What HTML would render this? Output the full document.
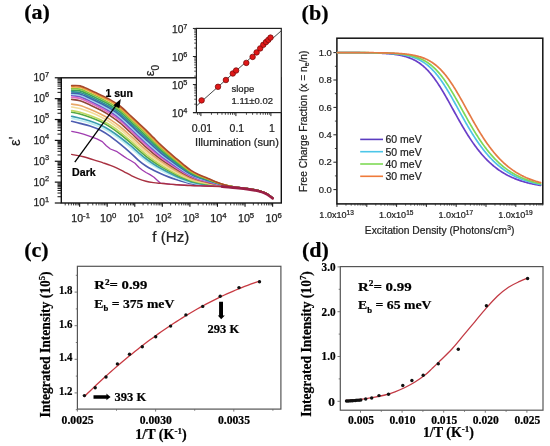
<!DOCTYPE html>
<html><head><meta charset="utf-8"><style>
html,body{margin:0;padding:0;background:#fff;}
body{width:550px;height:446px;overflow:hidden;}
svg{display:block;filter:blur(0.35px);}
</style></head><body>
<svg width="550" height="446" viewBox="0 0 550 446">
<rect x="0" y="0" width="550" height="446" fill="#fff"/>
<path d="M71.7,121.3 C73.08,121.65 76.95,122.62 80,123.4 C83.05,124.18 86.5,124.82 90,126 C93.5,127.18 97.67,128.77 101,130.47 C104.33,132.16 106.83,133.92 110,136.17 C113.17,138.41 116.5,141.09 120,143.94 C123.5,146.8 127.92,150.56 131,153.3 C134.08,156.04 136,158.26 138.5,160.38 C141,162.51 143.5,164.39 146,166.03 C148.5,167.68 151,168.94 153.5,170.25 C156,171.56 158.5,172.76 161,173.87 C163.5,174.97 166,175.94 168.5,176.88 C171,177.82 173.5,178.71 176,179.5 C178.5,180.29 181,180.93 183.5,181.62 C186,182.3 188.5,183.05 191,183.6 C193.5,184.15 196,184.57 198.5,184.9 C201,185.23 203.25,185.42 206,185.6 C208.75,185.78 211.83,185.87 215,186 C218.17,186.13 221.5,186.17 225,186.4 C228.5,186.63 232.33,187.02 236,187.4 C239.67,187.78 243.33,188.17 247,188.7 C250.67,189.23 254.75,189.8 258,190.6 C261.25,191.4 264.07,192.27 266.5,193.5 C268.93,194.73 271.58,197.25 272.6,198" stroke="#4c5cb0" stroke-width="1.65" fill="none" stroke-linejoin="round" stroke-linecap="round" />
<path d="M71.7,118.3 C73.08,118.63 76.95,119.49 80,120.29 C83.05,121.09 86.5,121.93 90,123.1 C93.5,124.26 97.67,125.75 101,127.28 C104.33,128.82 106.83,130.3 110,132.31 C113.17,134.32 116.5,136.72 120,139.35 C123.5,141.97 127.92,145.5 131,148.05 C134.08,150.6 136,152.53 138.5,154.65 C141,156.77 143.5,158.91 146,160.77 C148.5,162.63 151,164.22 153.5,165.79 C156,167.36 158.5,168.84 161,170.21 C163.5,171.58 166,172.81 168.5,174.02 C171,175.22 173.5,176.37 176,177.43 C178.5,178.49 181,179.49 183.5,180.37 C186,181.25 188.5,182.08 191,182.72 C193.5,183.36 196,183.82 198.5,184.21 C201,184.6 203.25,184.81 206,185.06 C208.75,185.31 211.83,185.49 215,185.7 C218.17,185.91 221.5,186.02 225,186.31 C228.5,186.59 232.33,187 236,187.39 C239.67,187.79 243.33,188.16 247,188.69 C250.67,189.23 254.75,189.8 258,190.6 C261.25,191.4 264.07,192.27 266.5,193.5 C268.93,194.73 271.58,197.25 272.6,198" stroke="#bdeef2" stroke-width="1.65" fill="none" stroke-linejoin="round" stroke-linecap="round" />
<path d="M71.7,116.3 C73.08,116.61 76.95,117.39 80,118.18 C83.05,118.97 86.5,119.86 90,121.04 C93.5,122.23 97.67,123.74 101,125.27 C104.33,126.8 106.83,128.25 110,130.24 C113.17,132.23 116.5,134.59 120,137.22 C123.5,139.84 127.92,143.43 131,145.99 C134.08,148.55 136,150.47 138.5,152.6 C141,154.73 143.5,156.88 146,158.77 C148.5,160.66 151,162.31 153.5,163.95 C156,165.58 158.5,167.13 161,168.57 C163.5,170.01 166,171.3 168.5,172.57 C171,173.83 173.5,175.05 176,176.18 C178.5,177.3 181,178.38 183.5,179.34 C186,180.29 188.5,181.2 191,181.91 C193.5,182.62 196,183.13 198.5,183.57 C201,184.01 203.25,184.25 206,184.56 C208.75,184.87 211.83,185.15 215,185.42 C218.17,185.7 221.5,185.89 225,186.22 C228.5,186.55 232.33,186.98 236,187.39 C239.67,187.8 243.33,188.15 247,188.69 C250.67,189.22 254.75,189.8 258,190.6 C261.25,191.4 264.07,192.27 266.5,193.5 C268.93,194.73 271.58,197.25 272.6,198" stroke="#3a9cb0" stroke-width="1.65" fill="none" stroke-linejoin="round" stroke-linecap="round" />
<path d="M71.7,112.2 C73.08,112.5 76.95,113.14 80,113.98 C83.05,114.81 86.5,115.91 90,117.21 C93.5,118.51 97.67,120.17 101,121.78 C104.33,123.39 106.83,124.83 110,126.87 C113.17,128.9 116.5,131.28 120,133.99 C123.5,136.7 127.92,140.46 131,143.12 C134.08,145.77 136,147.71 138.5,149.91 C141,152.1 143.5,154.32 146,156.29 C148.5,158.27 151,160.03 153.5,161.75 C156,163.47 158.5,165.1 161,166.61 C163.5,168.13 166,169.49 168.5,170.84 C171,172.18 173.5,173.47 176,174.68 C178.5,175.89 181,177.06 183.5,178.1 C186,179.15 188.5,180.16 191,180.95 C193.5,181.73 196,182.31 198.5,182.81 C201,183.31 203.25,183.59 206,183.97 C208.75,184.35 211.83,184.74 215,185.1 C218.17,185.45 221.5,185.74 225,186.12 C228.5,186.5 232.33,186.95 236,187.38 C239.67,187.81 243.33,188.14 247,188.68 C250.67,189.22 254.75,189.8 258,190.6 C261.25,191.4 264.07,192.27 266.5,193.5 C268.93,194.73 271.58,197.25 272.6,198" stroke="#52a844" stroke-width="1.65" fill="none" stroke-linejoin="round" stroke-linecap="round" />
<path d="M71.7,110.6 C73.08,110.88 76.95,111.44 80,112.26 C83.05,113.08 86.5,114.2 90,115.5 C93.5,116.79 97.67,118.46 101,120.05 C104.33,121.64 106.83,123.04 110,125.05 C113.17,127.05 116.5,129.38 120,132.07 C123.5,134.76 127.92,138.56 131,141.21 C134.08,143.86 136,145.79 138.5,147.98 C141,150.18 143.5,152.38 146,154.38 C148.5,156.38 151,158.2 153.5,159.98 C156,161.75 158.5,163.46 161,165.03 C163.5,166.61 166,168.03 168.5,169.44 C171,170.85 173.5,172.19 176,173.47 C178.5,174.75 181,175.99 183.5,177.11 C186,178.22 188.5,179.32 191,180.17 C193.5,181.02 196,181.64 198.5,182.2 C201,182.75 203.25,183.06 206,183.49 C208.75,183.93 211.83,184.41 215,184.83 C218.17,185.25 221.5,185.61 225,186.04 C228.5,186.46 232.33,186.93 236,187.37 C239.67,187.81 243.33,188.14 247,188.67 C250.67,189.21 254.75,189.8 258,190.6 C261.25,191.4 264.07,192.27 266.5,193.5 C268.93,194.73 271.58,197.25 272.6,198" stroke="#c2d862" stroke-width="1.65" fill="none" stroke-linejoin="round" stroke-linecap="round" />
<path d="M71.7,107 C73.08,107.26 76.95,107.71 80,108.56 C83.05,109.4 86.5,110.69 90,112.09 C93.5,113.48 97.67,115.26 101,116.91 C104.33,118.56 106.83,119.95 110,121.98 C113.17,124.02 116.5,126.34 120,129.1 C123.5,131.86 127.92,135.81 131,138.53 C134.08,141.25 136,143.2 138.5,145.44 C141,147.69 143.5,149.95 146,152.02 C148.5,154.09 151,156.01 153.5,157.86 C156,159.72 158.5,161.5 161,163.15 C163.5,164.81 166,166.3 168.5,167.78 C171,169.26 173.5,170.68 176,172.03 C178.5,173.39 181,174.72 183.5,175.92 C186,177.12 188.5,178.32 191,179.24 C193.5,180.17 196,180.85 198.5,181.47 C201,182.08 203.25,182.42 206,182.93 C208.75,183.43 211.83,184.01 215,184.51 C218.17,185.02 221.5,185.46 225,185.94 C228.5,186.41 232.33,186.91 236,187.37 C239.67,187.82 243.33,188.13 247,188.67 C250.67,189.21 254.75,189.79 258,190.6 C261.25,191.41 264.07,192.27 266.5,193.5 C268.93,194.73 271.58,197.25 272.6,198" stroke="#f3dc98" stroke-width="1.65" fill="none" stroke-linejoin="round" stroke-linecap="round" />
<path d="M71.7,104.1 C73.08,104.34 76.95,104.68 80,105.55 C83.05,106.41 86.5,107.82 90,109.27 C93.5,110.72 97.67,112.58 101,114.26 C104.33,115.95 106.83,117.32 110,119.36 C113.17,121.4 116.5,123.71 120,126.5 C123.5,129.29 127.92,133.35 131,136.12 C134.08,138.89 136,140.84 138.5,143.12 C141,145.4 143.5,147.68 146,149.81 C148.5,151.93 151,153.94 153.5,155.87 C156,157.8 158.5,159.65 161,161.38 C163.5,163.1 166,164.66 168.5,166.21 C171,167.76 173.5,169.24 176,170.67 C178.5,172.11 181,173.52 183.5,174.8 C186,176.08 188.5,177.37 191,178.37 C193.5,179.36 196,180.11 198.5,180.78 C201,181.45 203.25,181.82 206,182.39 C208.75,182.96 211.83,183.64 215,184.22 C218.17,184.79 221.5,185.32 225,185.85 C228.5,186.37 232.33,186.89 236,187.36 C239.67,187.83 243.33,188.12 247,188.66 C250.67,189.2 254.75,189.79 258,190.6 C261.25,191.41 264.07,192.27 266.5,193.5 C268.93,194.73 271.58,197.25 272.6,198" stroke="#e8a868" stroke-width="1.65" fill="none" stroke-linejoin="round" stroke-linecap="round" />
<path d="M71.7,99.4 C73.08,99.62 76.95,99.83 80,100.75 C83.05,101.67 86.5,103.33 90,104.93 C93.5,106.53 97.67,108.57 101,110.35 C104.33,112.13 106.83,113.51 110,115.61 C113.17,117.71 116.5,120.06 120,122.96 C123.5,125.86 127.92,130.13 131,133.01 C134.08,135.89 136,137.88 138.5,140.24 C141,142.61 143.5,144.98 146,147.2 C148.5,149.42 151,151.55 153.5,153.57 C156,155.59 158.5,157.53 161,159.33 C163.5,161.14 166,162.77 168.5,164.4 C171,166.03 173.5,167.59 176,169.11 C178.5,170.63 181,172.14 183.5,173.51 C186,174.89 188.5,176.28 191,177.36 C193.5,178.44 196,179.25 198.5,179.98 C201,180.72 203.25,181.12 206,181.77 C208.75,182.42 211.83,183.21 215,183.87 C218.17,184.53 221.5,185.16 225,185.74 C228.5,186.32 232.33,186.87 236,187.35 C239.67,187.84 243.33,188.11 247,188.65 C250.67,189.19 254.75,189.79 258,190.6 C261.25,191.41 264.07,192.27 266.5,193.5 C268.93,194.73 271.58,197.25 272.6,198" stroke="#8f4638" stroke-width="1.65" fill="none" stroke-linejoin="round" stroke-linecap="round" />
<path d="M71.7,97.2 C73.08,97.41 76.95,97.52 80,98.44 C83.05,99.35 86.5,101.08 90,102.71 C93.5,104.33 97.67,106.41 101,108.2 C104.33,109.98 106.83,111.33 110,113.42 C113.17,115.5 116.5,117.81 120,120.72 C123.5,123.63 127.92,127.97 131,130.87 C134.08,133.78 136,135.76 138.5,138.14 C141,140.51 143.5,142.89 146,145.15 C148.5,147.41 151,149.61 153.5,151.7 C156,153.78 158.5,155.79 161,157.66 C163.5,159.53 166,161.23 168.5,162.92 C171,164.62 173.5,166.24 176,167.83 C178.5,169.42 181,171.01 183.5,172.46 C186,173.91 188.5,175.39 191,176.54 C193.5,177.68 196,178.55 198.5,179.34 C201,180.12 203.25,180.56 206,181.27 C208.75,181.98 211.83,182.86 215,183.59 C218.17,184.32 221.5,185.03 225,185.65 C228.5,186.28 232.33,186.85 236,187.35 C239.67,187.85 243.33,188.1 247,188.65 C250.67,189.19 254.75,189.79 258,190.6 C261.25,191.41 264.07,192.27 266.5,193.5 C268.93,194.73 271.58,197.25 272.6,198" stroke="#e06ac0" stroke-width="1.65" fill="none" stroke-linejoin="round" stroke-linecap="round" />
<path d="M71.7,95.5 C73.08,95.69 76.95,95.72 80,96.62 C83.05,97.52 86.5,99.28 90,100.91 C93.5,102.54 97.67,104.63 101,106.4 C104.33,108.17 106.83,109.47 110,111.53 C113.17,113.59 116.5,115.85 120,118.75 C123.5,121.65 127.92,126.03 131,128.93 C134.08,131.84 136,133.8 138.5,136.18 C141,138.56 143.5,140.93 146,143.21 C148.5,145.5 151,147.76 153.5,149.9 C156,152.05 158.5,154.13 161,156.07 C163.5,158 166,159.75 168.5,161.51 C171,163.27 173.5,164.95 176,166.61 C178.5,168.27 181,169.93 183.5,171.45 C186,172.98 188.5,174.54 191,175.75 C193.5,176.96 196,177.88 198.5,178.72 C201,179.56 203.25,180.02 206,180.78 C208.75,181.55 211.83,182.53 215,183.32 C218.17,184.12 221.5,184.9 225,185.57 C228.5,186.24 232.33,186.83 236,187.34 C239.67,187.85 243.33,188.1 247,188.64 C250.67,189.18 254.75,189.79 258,190.6 C261.25,191.41 264.07,192.27 266.5,193.5 C268.93,194.73 271.58,197.25 272.6,198" stroke="#7b55c8" stroke-width="1.65" fill="none" stroke-linejoin="round" stroke-linecap="round" />
<path d="M71.7,94.2 C73.08,94.37 76.95,94.33 80,95.2 C83.05,96.08 86.5,97.83 90,99.44 C93.5,101.06 97.67,103.13 101,104.88 C104.33,106.62 106.83,107.88 110,109.9 C113.17,111.92 116.5,114.12 120,116.99 C123.5,119.86 127.92,124.25 131,127.14 C134.08,130.04 136,131.97 138.5,134.35 C141,136.72 143.5,139.06 146,141.37 C148.5,143.67 151,145.99 153.5,148.18 C156,150.37 158.5,152.54 161,154.53 C163.5,156.53 166,158.33 168.5,160.15 C171,161.97 173.5,163.72 176,165.44 C178.5,167.16 181,168.89 183.5,170.48 C186,172.08 188.5,173.72 191,175 C193.5,176.27 196,177.23 198.5,178.12 C201,179.01 203.25,179.5 206,180.32 C208.75,181.14 211.83,182.21 215,183.07 C218.17,183.93 221.5,184.78 225,185.49 C228.5,186.2 232.33,186.81 236,187.33 C239.67,187.86 243.33,188.09 247,188.63 C250.67,189.18 254.75,189.79 258,190.6 C261.25,191.41 264.07,192.27 266.5,193.5 C268.93,194.73 271.58,197.25 272.6,198" stroke="#9ad8ee" stroke-width="1.65" fill="none" stroke-linejoin="round" stroke-linecap="round" />
<path d="M71.7,93.1 C73.08,93.25 76.95,93.14 80,93.98 C83.05,94.83 86.5,96.57 90,98.15 C93.5,99.74 97.67,101.79 101,103.5 C104.33,105.21 106.83,106.42 110,108.39 C113.17,110.36 116.5,112.49 120,115.33 C123.5,118.17 127.92,122.56 131,125.43 C134.08,128.3 136,130.22 138.5,132.57 C141,134.93 143.5,137.24 146,139.56 C148.5,141.88 151,144.25 153.5,146.49 C156,148.73 158.5,150.97 161,153.03 C163.5,155.08 166,156.94 168.5,158.82 C171,160.7 173.5,162.5 176,164.29 C178.5,166.07 181,167.87 183.5,169.54 C186,171.2 188.5,172.92 191,174.25 C193.5,175.59 196,176.6 198.5,177.54 C201,178.47 203.25,178.99 206,179.87 C208.75,180.74 211.83,181.89 215,182.81 C218.17,183.74 221.5,184.66 225,185.41 C228.5,186.16 232.33,186.79 236,187.33 C239.67,187.87 243.33,188.08 247,188.63 C250.67,189.17 254.75,189.79 258,190.6 C261.25,191.41 264.07,192.27 266.5,193.5 C268.93,194.73 271.58,197.25 272.6,198" stroke="#3f5fb0" stroke-width="1.65" fill="none" stroke-linejoin="round" stroke-linecap="round" />
<path d="M71.7,91.8 C73.08,91.93 76.95,91.75 80,92.57 C83.05,93.38 86.5,95.12 90,96.69 C93.5,98.26 97.67,100.3 101,101.98 C104.33,103.66 106.83,104.82 110,106.76 C113.17,108.69 116.5,110.76 120,113.57 C123.5,116.39 127.92,120.78 131,123.64 C134.08,126.5 136,128.39 138.5,130.74 C141,133.09 143.5,135.38 146,137.72 C148.5,140.05 151,142.47 153.5,144.77 C156,147.06 158.5,149.37 161,151.49 C163.5,153.61 166,155.53 168.5,157.46 C171,159.4 173.5,161.26 176,163.11 C178.5,164.96 181,166.84 183.5,168.57 C186,170.3 188.5,172.1 191,173.5 C193.5,174.89 196,175.96 198.5,176.94 C201,177.93 203.25,178.47 206,179.4 C208.75,180.34 211.83,181.57 215,182.56 C218.17,183.54 221.5,184.53 225,185.33 C228.5,186.12 232.33,186.77 236,187.32 C239.67,187.87 243.33,188.08 247,188.62 C250.67,189.17 254.75,189.79 258,190.6 C261.25,191.41 264.07,192.27 266.5,193.5 C268.93,194.73 271.58,197.25 272.6,198" stroke="#2e8f9a" stroke-width="1.65" fill="none" stroke-linejoin="round" stroke-linecap="round" />
<path d="M71.7,90.2 C73.08,90.31 76.95,90.05 80,90.85 C83.05,91.65 86.5,93.41 90,94.98 C93.5,96.54 97.67,98.59 101,100.25 C104.33,101.91 106.83,103.04 110,104.94 C113.17,106.84 116.5,108.85 120,111.65 C123.5,114.45 127.92,118.88 131,121.74 C134.08,124.6 136,126.47 138.5,128.81 C141,131.16 143.5,133.44 146,135.8 C148.5,138.16 151,140.64 153.5,142.99 C156,145.34 158.5,147.73 161,149.91 C163.5,152.09 166,154.07 168.5,156.07 C171,158.06 173.5,159.99 176,161.9 C178.5,163.82 181,165.77 183.5,167.57 C186,169.37 188.5,171.26 191,172.72 C193.5,174.18 196,175.29 198.5,176.33 C201,177.36 203.25,177.93 206,178.92 C208.75,179.92 211.83,181.24 215,182.29 C218.17,183.34 221.5,184.41 225,185.25 C228.5,186.08 232.33,186.76 236,187.32 C239.67,187.88 243.33,188.07 247,188.62 C250.67,189.16 254.75,189.79 258,190.6 C261.25,191.41 264.07,192.27 266.5,193.5 C268.93,194.73 271.58,197.25 272.6,198" stroke="#3aa35a" stroke-width="1.65" fill="none" stroke-linejoin="round" stroke-linecap="round" />
<path d="M71.7,88.6 C73.08,88.69 76.95,88.36 80,89.13 C83.05,89.91 86.5,91.7 90,93.26 C93.5,94.83 97.67,96.88 101,98.52 C104.33,100.16 106.83,101.25 110,103.12 C113.17,104.99 116.5,106.95 120,109.73 C123.5,112.52 127.92,116.97 131,119.83 C134.08,122.69 136,124.55 138.5,126.89 C141,129.23 143.5,131.5 146,133.89 C148.5,136.27 151,138.81 153.5,141.22 C156,143.62 158.5,146.09 161,148.33 C163.5,150.57 166,152.61 168.5,154.67 C171,156.73 173.5,158.71 176,160.69 C178.5,162.68 181,164.7 183.5,166.57 C186,168.45 188.5,170.42 191,171.94 C193.5,173.47 196,174.63 198.5,175.71 C201,176.8 203.25,177.39 206,178.45 C208.75,179.5 211.83,180.91 215,182.03 C218.17,183.15 221.5,184.28 225,185.16 C228.5,186.04 232.33,186.74 236,187.31 C239.67,187.89 243.33,188.06 247,188.61 C250.67,189.16 254.75,189.79 258,190.6 C261.25,191.41 264.07,192.27 266.5,193.5 C268.93,194.73 271.58,197.25 272.6,198" stroke="#8cc63f" stroke-width="1.65" fill="none" stroke-linejoin="round" stroke-linecap="round" />
<path d="M71.7,86.9 C73.08,86.97 76.95,86.56 80,87.32 C83.05,88.08 86.5,89.89 90,91.46 C93.5,93.03 97.67,95.09 101,96.72 C104.33,98.35 106.83,99.39 110,101.23 C113.17,103.07 116.5,104.99 120,107.76 C123.5,110.54 127.92,115.03 131,117.89 C134.08,120.75 136,122.59 138.5,124.93 C141,127.28 143.5,129.53 146,131.95 C148.5,134.36 151,136.96 153.5,139.42 C156,141.89 158.5,144.43 161,146.74 C163.5,149.04 166,151.13 168.5,153.26 C171,155.38 173.5,157.42 176,159.47 C178.5,161.53 181,163.62 183.5,165.57 C186,167.52 188.5,169.57 191,171.16 C193.5,172.74 196,173.96 198.5,175.1 C201,176.23 203.25,176.85 206,177.96 C208.75,179.07 211.83,180.57 215,181.76 C218.17,182.94 221.5,184.16 225,185.08 C228.5,186 232.33,186.72 236,187.31 C239.67,187.89 243.33,188.06 247,188.61 C250.67,189.15 254.75,189.78 258,190.6 C261.25,191.42 264.07,192.27 266.5,193.5 C268.93,194.73 271.58,197.25 272.6,198" stroke="#f0a23a" stroke-width="1.65" fill="none" stroke-linejoin="round" stroke-linecap="round" />
<path d="M71.7,85.6 C73.08,85.65 76.95,85.17 80,85.9 C83.05,86.63 86.5,88.45 90,90 C93.5,91.55 97.67,93.6 101,95.2 C104.33,96.8 106.83,97.8 110,99.6 C113.17,101.4 116.5,103.25 120,106 C123.5,108.75 127.92,113.25 131,116.1 C134.08,118.95 136,120.77 138.5,123.1 C141,125.43 143.5,127.67 146,130.1 C148.5,132.53 151,135.18 153.5,137.7 C156,140.22 158.5,142.83 161,145.2 C163.5,147.57 166,149.72 168.5,151.9 C171,154.08 173.5,156.18 176,158.3 C178.5,160.42 181,162.58 183.5,164.6 C186,166.62 188.5,168.75 191,170.4 C193.5,172.05 196,173.32 198.5,174.5 C201,175.68 203.25,176.33 206,177.5 C208.75,178.67 211.83,180.25 215,181.5 C218.17,182.75 221.5,184.03 225,185 C228.5,185.97 232.33,186.7 236,187.3 C239.67,187.9 243.33,188.05 247,188.6 C250.67,189.15 254.75,189.78 258,190.6 C261.25,191.42 264.07,192.27 266.5,193.5 C268.93,194.73 271.58,197.25 272.6,198" stroke="#a8482a" stroke-width="1.65" fill="none" stroke-linejoin="round" stroke-linecap="round" />
<path d="M71.7,131.3 L78,132.6 L83.5,134.2 L90,136.3 L96.9,138.9 L102.3,141.6 L106.3,145.7 L110.4,149 L117.1,151.7 L123.8,156.4 L127,158.5 L131,160.8 L135,163.2 L139,167.5 L142.5,170.2 L146,172.5 L150,174.6 L154,177.2 L157.5,180.5 L160.5,183.2 L164,183.4 L170,184.2 L180,184.9 L195,185.6 L215,186.2 L225,186.4 L236,187.4 L247,188.7 L258,190.6 L266.5,193.5 L272.6,198" stroke="#a03cb0" stroke-width="1.3" fill="none" stroke-linejoin="round" stroke-linecap="round" />
<path d="M71.7,154.4 C73.67,154.8 79.3,155.73 83.5,156.8 C87.7,157.87 93.65,159.8 96.9,160.8 C100.15,161.8 100.75,162.03 103,162.8 C105.25,163.57 108.07,164.5 110.4,165.4 C112.73,166.3 114.77,167.17 117,168.2 C119.23,169.23 121.47,170.4 123.8,171.6 C126.13,172.8 128.63,174.23 131,175.4 C133.37,176.57 135.5,177.63 138,178.6 C140.5,179.57 143.42,180.53 146,181.2 C148.58,181.87 151,182.23 153.5,182.6 C156,182.97 158.58,183.15 161,183.4 C163.42,183.65 165.5,183.88 168,184.1 C170.5,184.32 172.33,184.47 176,184.7 C179.67,184.93 185.17,185.28 190,185.5 C194.83,185.72 199.17,185.82 205,186 C210.83,186.18 219.83,186.33 225,186.6 C230.17,186.87 232.33,187.22 236,187.6 C239.67,187.98 243.33,188.37 247,188.9 C250.67,189.43 254.75,190 258,190.8 C261.25,191.6 264.07,192.47 266.5,193.7 C268.93,194.93 271.58,197.45 272.6,198.2" stroke="#a83040" stroke-width="1.4" fill="none" stroke-linejoin="round" stroke-linecap="round" />
<path d="M222,186.6 C222.5,186.65 222.67,186.68 225,186.9 C227.33,187.12 232.33,187.53 236,187.9 C239.67,188.27 243.33,188.57 247,189.1 C250.67,189.63 254.75,190.27 258,191.1 C261.25,191.93 264.07,192.88 266.5,194.1 C268.93,195.32 271.58,197.68 272.6,198.4" stroke="#9a1f45" stroke-width="2.6" fill="none" stroke-linejoin="round" stroke-linecap="round" />
<rect x="61.3" y="77.8" width="220.0" height="125.2" fill="none" stroke="#111" stroke-width="1.4"/>
<line x1="54.8" y1="203" x2="61.3" y2="203" stroke="#111" stroke-width="1.2"/>
<line x1="57.5" y1="196.72" x2="61.3" y2="196.72" stroke="#111" stroke-width="1.0"/>
<line x1="57.5" y1="193.04" x2="61.3" y2="193.04" stroke="#111" stroke-width="1.0"/>
<line x1="57.5" y1="190.44" x2="61.3" y2="190.44" stroke="#111" stroke-width="1.0"/>
<line x1="57.5" y1="188.41" x2="61.3" y2="188.41" stroke="#111" stroke-width="1.0"/>
<line x1="57.5" y1="186.76" x2="61.3" y2="186.76" stroke="#111" stroke-width="1.0"/>
<line x1="57.5" y1="185.36" x2="61.3" y2="185.36" stroke="#111" stroke-width="1.0"/>
<line x1="57.5" y1="184.15" x2="61.3" y2="184.15" stroke="#111" stroke-width="1.0"/>
<line x1="57.5" y1="183.08" x2="61.3" y2="183.08" stroke="#111" stroke-width="1.0"/>
<line x1="54.8" y1="182.13" x2="61.3" y2="182.13" stroke="#111" stroke-width="1.2"/>
<line x1="57.5" y1="175.85" x2="61.3" y2="175.85" stroke="#111" stroke-width="1.0"/>
<line x1="57.5" y1="172.17" x2="61.3" y2="172.17" stroke="#111" stroke-width="1.0"/>
<line x1="57.5" y1="169.57" x2="61.3" y2="169.57" stroke="#111" stroke-width="1.0"/>
<line x1="57.5" y1="167.54" x2="61.3" y2="167.54" stroke="#111" stroke-width="1.0"/>
<line x1="57.5" y1="165.89" x2="61.3" y2="165.89" stroke="#111" stroke-width="1.0"/>
<line x1="57.5" y1="164.49" x2="61.3" y2="164.49" stroke="#111" stroke-width="1.0"/>
<line x1="57.5" y1="163.28" x2="61.3" y2="163.28" stroke="#111" stroke-width="1.0"/>
<line x1="57.5" y1="162.21" x2="61.3" y2="162.21" stroke="#111" stroke-width="1.0"/>
<line x1="54.8" y1="161.26" x2="61.3" y2="161.26" stroke="#111" stroke-width="1.2"/>
<line x1="57.5" y1="154.98" x2="61.3" y2="154.98" stroke="#111" stroke-width="1.0"/>
<line x1="57.5" y1="151.3" x2="61.3" y2="151.3" stroke="#111" stroke-width="1.0"/>
<line x1="57.5" y1="148.7" x2="61.3" y2="148.7" stroke="#111" stroke-width="1.0"/>
<line x1="57.5" y1="146.67" x2="61.3" y2="146.67" stroke="#111" stroke-width="1.0"/>
<line x1="57.5" y1="145.02" x2="61.3" y2="145.02" stroke="#111" stroke-width="1.0"/>
<line x1="57.5" y1="143.62" x2="61.3" y2="143.62" stroke="#111" stroke-width="1.0"/>
<line x1="57.5" y1="142.41" x2="61.3" y2="142.41" stroke="#111" stroke-width="1.0"/>
<line x1="57.5" y1="141.34" x2="61.3" y2="141.34" stroke="#111" stroke-width="1.0"/>
<line x1="54.8" y1="140.39" x2="61.3" y2="140.39" stroke="#111" stroke-width="1.2"/>
<line x1="57.5" y1="134.11" x2="61.3" y2="134.11" stroke="#111" stroke-width="1.0"/>
<line x1="57.5" y1="130.43" x2="61.3" y2="130.43" stroke="#111" stroke-width="1.0"/>
<line x1="57.5" y1="127.83" x2="61.3" y2="127.83" stroke="#111" stroke-width="1.0"/>
<line x1="57.5" y1="125.8" x2="61.3" y2="125.8" stroke="#111" stroke-width="1.0"/>
<line x1="57.5" y1="124.15" x2="61.3" y2="124.15" stroke="#111" stroke-width="1.0"/>
<line x1="57.5" y1="122.75" x2="61.3" y2="122.75" stroke="#111" stroke-width="1.0"/>
<line x1="57.5" y1="121.54" x2="61.3" y2="121.54" stroke="#111" stroke-width="1.0"/>
<line x1="57.5" y1="120.47" x2="61.3" y2="120.47" stroke="#111" stroke-width="1.0"/>
<line x1="54.8" y1="119.52" x2="61.3" y2="119.52" stroke="#111" stroke-width="1.2"/>
<line x1="57.5" y1="113.24" x2="61.3" y2="113.24" stroke="#111" stroke-width="1.0"/>
<line x1="57.5" y1="109.56" x2="61.3" y2="109.56" stroke="#111" stroke-width="1.0"/>
<line x1="57.5" y1="106.96" x2="61.3" y2="106.96" stroke="#111" stroke-width="1.0"/>
<line x1="57.5" y1="104.93" x2="61.3" y2="104.93" stroke="#111" stroke-width="1.0"/>
<line x1="57.5" y1="103.28" x2="61.3" y2="103.28" stroke="#111" stroke-width="1.0"/>
<line x1="57.5" y1="101.88" x2="61.3" y2="101.88" stroke="#111" stroke-width="1.0"/>
<line x1="57.5" y1="100.67" x2="61.3" y2="100.67" stroke="#111" stroke-width="1.0"/>
<line x1="57.5" y1="99.6" x2="61.3" y2="99.6" stroke="#111" stroke-width="1.0"/>
<line x1="54.8" y1="98.65" x2="61.3" y2="98.65" stroke="#111" stroke-width="1.2"/>
<line x1="57.5" y1="92.37" x2="61.3" y2="92.37" stroke="#111" stroke-width="1.0"/>
<line x1="57.5" y1="88.69" x2="61.3" y2="88.69" stroke="#111" stroke-width="1.0"/>
<line x1="57.5" y1="86.09" x2="61.3" y2="86.09" stroke="#111" stroke-width="1.0"/>
<line x1="57.5" y1="84.06" x2="61.3" y2="84.06" stroke="#111" stroke-width="1.0"/>
<line x1="57.5" y1="82.41" x2="61.3" y2="82.41" stroke="#111" stroke-width="1.0"/>
<line x1="57.5" y1="81.01" x2="61.3" y2="81.01" stroke="#111" stroke-width="1.0"/>
<line x1="57.5" y1="79.8" x2="61.3" y2="79.8" stroke="#111" stroke-width="1.0"/>
<line x1="57.5" y1="78.73" x2="61.3" y2="78.73" stroke="#111" stroke-width="1.0"/>
<line x1="54.8" y1="77.78" x2="61.3" y2="77.78" stroke="#111" stroke-width="1.2"/>
<text x="49.2" y="206.4" font-family='"Liberation Sans", sans-serif' font-size="10" font-weight="normal" text-anchor="end" fill="#222" textLength="15.6" lengthAdjust="spacingAndGlyphs" stroke="#222" stroke-width="0.25">10<tspan font-size="7.2" dy="-4.6">1</tspan></text>
<text x="49.2" y="185.53" font-family='"Liberation Sans", sans-serif' font-size="10" font-weight="normal" text-anchor="end" fill="#222" textLength="15.6" lengthAdjust="spacingAndGlyphs" stroke="#222" stroke-width="0.25">10<tspan font-size="7.2" dy="-4.6">2</tspan></text>
<text x="49.2" y="164.66" font-family='"Liberation Sans", sans-serif' font-size="10" font-weight="normal" text-anchor="end" fill="#222" textLength="15.6" lengthAdjust="spacingAndGlyphs" stroke="#222" stroke-width="0.25">10<tspan font-size="7.2" dy="-4.6">3</tspan></text>
<text x="49.2" y="143.79" font-family='"Liberation Sans", sans-serif' font-size="10" font-weight="normal" text-anchor="end" fill="#222" textLength="15.6" lengthAdjust="spacingAndGlyphs" stroke="#222" stroke-width="0.25">10<tspan font-size="7.2" dy="-4.6">4</tspan></text>
<text x="49.2" y="122.92" font-family='"Liberation Sans", sans-serif' font-size="10" font-weight="normal" text-anchor="end" fill="#222" textLength="15.6" lengthAdjust="spacingAndGlyphs" stroke="#222" stroke-width="0.25">10<tspan font-size="7.2" dy="-4.6">5</tspan></text>
<text x="49.2" y="102.05" font-family='"Liberation Sans", sans-serif' font-size="10" font-weight="normal" text-anchor="end" fill="#222" textLength="15.6" lengthAdjust="spacingAndGlyphs" stroke="#222" stroke-width="0.25">10<tspan font-size="7.2" dy="-4.6">6</tspan></text>
<text x="49.2" y="81.18" font-family='"Liberation Sans", sans-serif' font-size="10" font-weight="normal" text-anchor="end" fill="#222" textLength="15.6" lengthAdjust="spacingAndGlyphs" stroke="#222" stroke-width="0.25">10<tspan font-size="7.2" dy="-4.6">7</tspan></text>
<line x1="79.63" y1="203" x2="79.63" y2="206.8" stroke="#111" stroke-width="1.1"/>
<line x1="107.2" y1="203" x2="107.2" y2="206.8" stroke="#111" stroke-width="1.1"/>
<line x1="134.77" y1="203" x2="134.77" y2="206.8" stroke="#111" stroke-width="1.1"/>
<line x1="162.34" y1="203" x2="162.34" y2="206.8" stroke="#111" stroke-width="1.1"/>
<line x1="189.91" y1="203" x2="189.91" y2="206.8" stroke="#111" stroke-width="1.1"/>
<line x1="217.48" y1="203" x2="217.48" y2="206.8" stroke="#111" stroke-width="1.1"/>
<line x1="245.05" y1="203" x2="245.05" y2="206.8" stroke="#111" stroke-width="1.1"/>
<line x1="272.62" y1="203" x2="272.62" y2="206.8" stroke="#111" stroke-width="1.1"/>
<line x1="65.21" y1="203" x2="65.21" y2="205.4" stroke="#111" stroke-width="0.8"/>
<line x1="68.66" y1="203" x2="68.66" y2="205.4" stroke="#111" stroke-width="0.8"/>
<line x1="71.33" y1="203" x2="71.33" y2="205.4" stroke="#111" stroke-width="0.8"/>
<line x1="73.51" y1="203" x2="73.51" y2="205.4" stroke="#111" stroke-width="0.8"/>
<line x1="75.36" y1="203" x2="75.36" y2="205.4" stroke="#111" stroke-width="0.8"/>
<line x1="76.96" y1="203" x2="76.96" y2="205.4" stroke="#111" stroke-width="0.8"/>
<line x1="78.37" y1="203" x2="78.37" y2="205.4" stroke="#111" stroke-width="0.8"/>
<line x1="87.93" y1="203" x2="87.93" y2="205.4" stroke="#111" stroke-width="0.8"/>
<line x1="92.78" y1="203" x2="92.78" y2="205.4" stroke="#111" stroke-width="0.8"/>
<line x1="96.23" y1="203" x2="96.23" y2="205.4" stroke="#111" stroke-width="0.8"/>
<line x1="98.9" y1="203" x2="98.9" y2="205.4" stroke="#111" stroke-width="0.8"/>
<line x1="101.08" y1="203" x2="101.08" y2="205.4" stroke="#111" stroke-width="0.8"/>
<line x1="102.93" y1="203" x2="102.93" y2="205.4" stroke="#111" stroke-width="0.8"/>
<line x1="104.53" y1="203" x2="104.53" y2="205.4" stroke="#111" stroke-width="0.8"/>
<line x1="105.94" y1="203" x2="105.94" y2="205.4" stroke="#111" stroke-width="0.8"/>
<line x1="115.5" y1="203" x2="115.5" y2="205.4" stroke="#111" stroke-width="0.8"/>
<line x1="120.35" y1="203" x2="120.35" y2="205.4" stroke="#111" stroke-width="0.8"/>
<line x1="123.8" y1="203" x2="123.8" y2="205.4" stroke="#111" stroke-width="0.8"/>
<line x1="126.47" y1="203" x2="126.47" y2="205.4" stroke="#111" stroke-width="0.8"/>
<line x1="128.65" y1="203" x2="128.65" y2="205.4" stroke="#111" stroke-width="0.8"/>
<line x1="130.5" y1="203" x2="130.5" y2="205.4" stroke="#111" stroke-width="0.8"/>
<line x1="132.1" y1="203" x2="132.1" y2="205.4" stroke="#111" stroke-width="0.8"/>
<line x1="133.51" y1="203" x2="133.51" y2="205.4" stroke="#111" stroke-width="0.8"/>
<line x1="143.07" y1="203" x2="143.07" y2="205.4" stroke="#111" stroke-width="0.8"/>
<line x1="147.92" y1="203" x2="147.92" y2="205.4" stroke="#111" stroke-width="0.8"/>
<line x1="151.37" y1="203" x2="151.37" y2="205.4" stroke="#111" stroke-width="0.8"/>
<line x1="154.04" y1="203" x2="154.04" y2="205.4" stroke="#111" stroke-width="0.8"/>
<line x1="156.22" y1="203" x2="156.22" y2="205.4" stroke="#111" stroke-width="0.8"/>
<line x1="158.07" y1="203" x2="158.07" y2="205.4" stroke="#111" stroke-width="0.8"/>
<line x1="159.67" y1="203" x2="159.67" y2="205.4" stroke="#111" stroke-width="0.8"/>
<line x1="161.08" y1="203" x2="161.08" y2="205.4" stroke="#111" stroke-width="0.8"/>
<line x1="170.64" y1="203" x2="170.64" y2="205.4" stroke="#111" stroke-width="0.8"/>
<line x1="175.49" y1="203" x2="175.49" y2="205.4" stroke="#111" stroke-width="0.8"/>
<line x1="178.94" y1="203" x2="178.94" y2="205.4" stroke="#111" stroke-width="0.8"/>
<line x1="181.61" y1="203" x2="181.61" y2="205.4" stroke="#111" stroke-width="0.8"/>
<line x1="183.79" y1="203" x2="183.79" y2="205.4" stroke="#111" stroke-width="0.8"/>
<line x1="185.64" y1="203" x2="185.64" y2="205.4" stroke="#111" stroke-width="0.8"/>
<line x1="187.24" y1="203" x2="187.24" y2="205.4" stroke="#111" stroke-width="0.8"/>
<line x1="188.65" y1="203" x2="188.65" y2="205.4" stroke="#111" stroke-width="0.8"/>
<line x1="198.21" y1="203" x2="198.21" y2="205.4" stroke="#111" stroke-width="0.8"/>
<line x1="203.06" y1="203" x2="203.06" y2="205.4" stroke="#111" stroke-width="0.8"/>
<line x1="206.51" y1="203" x2="206.51" y2="205.4" stroke="#111" stroke-width="0.8"/>
<line x1="209.18" y1="203" x2="209.18" y2="205.4" stroke="#111" stroke-width="0.8"/>
<line x1="211.36" y1="203" x2="211.36" y2="205.4" stroke="#111" stroke-width="0.8"/>
<line x1="213.21" y1="203" x2="213.21" y2="205.4" stroke="#111" stroke-width="0.8"/>
<line x1="214.81" y1="203" x2="214.81" y2="205.4" stroke="#111" stroke-width="0.8"/>
<line x1="216.22" y1="203" x2="216.22" y2="205.4" stroke="#111" stroke-width="0.8"/>
<line x1="225.78" y1="203" x2="225.78" y2="205.4" stroke="#111" stroke-width="0.8"/>
<line x1="230.63" y1="203" x2="230.63" y2="205.4" stroke="#111" stroke-width="0.8"/>
<line x1="234.08" y1="203" x2="234.08" y2="205.4" stroke="#111" stroke-width="0.8"/>
<line x1="236.75" y1="203" x2="236.75" y2="205.4" stroke="#111" stroke-width="0.8"/>
<line x1="238.93" y1="203" x2="238.93" y2="205.4" stroke="#111" stroke-width="0.8"/>
<line x1="240.78" y1="203" x2="240.78" y2="205.4" stroke="#111" stroke-width="0.8"/>
<line x1="242.38" y1="203" x2="242.38" y2="205.4" stroke="#111" stroke-width="0.8"/>
<line x1="243.79" y1="203" x2="243.79" y2="205.4" stroke="#111" stroke-width="0.8"/>
<line x1="253.35" y1="203" x2="253.35" y2="205.4" stroke="#111" stroke-width="0.8"/>
<line x1="258.2" y1="203" x2="258.2" y2="205.4" stroke="#111" stroke-width="0.8"/>
<line x1="261.65" y1="203" x2="261.65" y2="205.4" stroke="#111" stroke-width="0.8"/>
<line x1="264.32" y1="203" x2="264.32" y2="205.4" stroke="#111" stroke-width="0.8"/>
<line x1="266.5" y1="203" x2="266.5" y2="205.4" stroke="#111" stroke-width="0.8"/>
<line x1="268.35" y1="203" x2="268.35" y2="205.4" stroke="#111" stroke-width="0.8"/>
<line x1="269.95" y1="203" x2="269.95" y2="205.4" stroke="#111" stroke-width="0.8"/>
<line x1="271.36" y1="203" x2="271.36" y2="205.4" stroke="#111" stroke-width="0.8"/>
<text x="80.63" y="222.3" font-family='"Liberation Sans", sans-serif' font-size="10" font-weight="normal" text-anchor="middle" fill="#222" textLength="18.5" lengthAdjust="spacingAndGlyphs" stroke="#222" stroke-width="0.25">10<tspan font-size="7.2" dy="-4.4">-1</tspan></text>
<text x="108.2" y="222.3" font-family='"Liberation Sans", sans-serif' font-size="10" font-weight="normal" text-anchor="middle" fill="#222" textLength="16.3" lengthAdjust="spacingAndGlyphs" stroke="#222" stroke-width="0.25">10<tspan font-size="7.2" dy="-4.4">0</tspan></text>
<text x="135.77" y="222.3" font-family='"Liberation Sans", sans-serif' font-size="10" font-weight="normal" text-anchor="middle" fill="#222" textLength="16.3" lengthAdjust="spacingAndGlyphs" stroke="#222" stroke-width="0.25">10<tspan font-size="7.2" dy="-4.4">1</tspan></text>
<text x="163.34" y="222.3" font-family='"Liberation Sans", sans-serif' font-size="10" font-weight="normal" text-anchor="middle" fill="#222" textLength="16.3" lengthAdjust="spacingAndGlyphs" stroke="#222" stroke-width="0.25">10<tspan font-size="7.2" dy="-4.4">2</tspan></text>
<text x="190.91" y="222.3" font-family='"Liberation Sans", sans-serif' font-size="10" font-weight="normal" text-anchor="middle" fill="#222" textLength="16.3" lengthAdjust="spacingAndGlyphs" stroke="#222" stroke-width="0.25">10<tspan font-size="7.2" dy="-4.4">3</tspan></text>
<text x="218.48" y="222.3" font-family='"Liberation Sans", sans-serif' font-size="10" font-weight="normal" text-anchor="middle" fill="#222" textLength="16.3" lengthAdjust="spacingAndGlyphs" stroke="#222" stroke-width="0.25">10<tspan font-size="7.2" dy="-4.4">4</tspan></text>
<text x="246.05" y="222.3" font-family='"Liberation Sans", sans-serif' font-size="10" font-weight="normal" text-anchor="middle" fill="#222" textLength="16.3" lengthAdjust="spacingAndGlyphs" stroke="#222" stroke-width="0.25">10<tspan font-size="7.2" dy="-4.4">5</tspan></text>
<text x="273.62" y="222.3" font-family='"Liberation Sans", sans-serif' font-size="10" font-weight="normal" text-anchor="middle" fill="#222" textLength="16.3" lengthAdjust="spacingAndGlyphs" stroke="#222" stroke-width="0.25">10<tspan font-size="7.2" dy="-4.4">6</tspan></text>
<text x="170.8" y="242.2" font-family='"Liberation Sans", sans-serif' font-size="14.5" font-weight="normal" text-anchor="middle" fill="#222" textLength="37" lengthAdjust="spacingAndGlyphs" stroke="#222" stroke-width="0.22" >f (Hz)</text>
<text x="20.2" y="141.2" font-family='"Liberation Sans", sans-serif' font-size="15" font-weight="normal" text-anchor="middle" fill="#222" stroke="#222" stroke-width="0.22" transform="rotate(-90 20.2 141.2)">ε<tspan dy='-1.6' font-size='14'>'</tspan></text>
<line x1="74.8" y1="162.2" x2="116.8" y2="104.4" stroke="#000" stroke-width="1.3"/>
<path d="M120.8,99 L113.4,105.2 L119.4,108.2 Z" fill="#000"/>
<text x="105.4" y="96.6" font-family='"Liberation Sans", sans-serif' font-size="10.5" font-weight="bold" text-anchor="start" fill="#000" stroke="#000" stroke-width="0.22" >1 sun</text>
<text x="72.1" y="175.5" font-family='"Liberation Sans", sans-serif' font-size="10.6" font-weight="bold" text-anchor="start" fill="#000" stroke="#000" stroke-width="0.22" >Dark</text>
<rect x="196.4" y="28.4" width="84.9" height="84.19999999999999" fill="#fff" stroke="#222" stroke-width="1.2"/>
<line x1="193" y1="112.6" x2="196.4" y2="112.6" stroke="#222" stroke-width="1.2"/>
<line x1="192.9" y1="112.6" x2="196.4" y2="112.6" stroke="#222" stroke-width="1"/>
<line x1="194.2" y1="104.16" x2="196.4" y2="104.16" stroke="#222" stroke-width="0.8"/>
<line x1="194.2" y1="99.22" x2="196.4" y2="99.22" stroke="#222" stroke-width="0.8"/>
<line x1="194.2" y1="95.71" x2="196.4" y2="95.71" stroke="#222" stroke-width="0.8"/>
<line x1="194.2" y1="92.99" x2="196.4" y2="92.99" stroke="#222" stroke-width="0.8"/>
<line x1="194.2" y1="90.77" x2="196.4" y2="90.77" stroke="#222" stroke-width="0.8"/>
<line x1="194.2" y1="88.89" x2="196.4" y2="88.89" stroke="#222" stroke-width="0.8"/>
<line x1="194.2" y1="87.27" x2="196.4" y2="87.27" stroke="#222" stroke-width="0.8"/>
<line x1="194.2" y1="85.83" x2="196.4" y2="85.83" stroke="#222" stroke-width="0.8"/>
<text x="187.4" y="116.9" font-family='"Liberation Sans", sans-serif' font-size="10" font-weight="normal" text-anchor="end" fill="#222" textLength="15.4" lengthAdjust="spacingAndGlyphs" stroke="#222" stroke-width="0.25">10<tspan font-size="7.2" dy="-3.9">4</tspan></text>
<line x1="192.9" y1="84.55" x2="196.4" y2="84.55" stroke="#222" stroke-width="1"/>
<line x1="194.2" y1="76.11" x2="196.4" y2="76.11" stroke="#222" stroke-width="0.8"/>
<line x1="194.2" y1="71.17" x2="196.4" y2="71.17" stroke="#222" stroke-width="0.8"/>
<line x1="194.2" y1="67.66" x2="196.4" y2="67.66" stroke="#222" stroke-width="0.8"/>
<line x1="194.2" y1="64.94" x2="196.4" y2="64.94" stroke="#222" stroke-width="0.8"/>
<line x1="194.2" y1="62.72" x2="196.4" y2="62.72" stroke="#222" stroke-width="0.8"/>
<line x1="194.2" y1="60.84" x2="196.4" y2="60.84" stroke="#222" stroke-width="0.8"/>
<line x1="194.2" y1="59.22" x2="196.4" y2="59.22" stroke="#222" stroke-width="0.8"/>
<line x1="194.2" y1="57.78" x2="196.4" y2="57.78" stroke="#222" stroke-width="0.8"/>
<text x="187.4" y="88.85" font-family='"Liberation Sans", sans-serif' font-size="10" font-weight="normal" text-anchor="end" fill="#222" textLength="15.4" lengthAdjust="spacingAndGlyphs" stroke="#222" stroke-width="0.25">10<tspan font-size="7.2" dy="-3.9">5</tspan></text>
<line x1="192.9" y1="56.5" x2="196.4" y2="56.5" stroke="#222" stroke-width="1"/>
<line x1="194.2" y1="48.06" x2="196.4" y2="48.06" stroke="#222" stroke-width="0.8"/>
<line x1="194.2" y1="43.12" x2="196.4" y2="43.12" stroke="#222" stroke-width="0.8"/>
<line x1="194.2" y1="39.61" x2="196.4" y2="39.61" stroke="#222" stroke-width="0.8"/>
<line x1="194.2" y1="36.89" x2="196.4" y2="36.89" stroke="#222" stroke-width="0.8"/>
<line x1="194.2" y1="34.67" x2="196.4" y2="34.67" stroke="#222" stroke-width="0.8"/>
<line x1="194.2" y1="32.79" x2="196.4" y2="32.79" stroke="#222" stroke-width="0.8"/>
<line x1="194.2" y1="31.17" x2="196.4" y2="31.17" stroke="#222" stroke-width="0.8"/>
<line x1="194.2" y1="29.73" x2="196.4" y2="29.73" stroke="#222" stroke-width="0.8"/>
<text x="187.4" y="60.8" font-family='"Liberation Sans", sans-serif' font-size="10" font-weight="normal" text-anchor="end" fill="#222" textLength="15.4" lengthAdjust="spacingAndGlyphs" stroke="#222" stroke-width="0.25">10<tspan font-size="7.2" dy="-3.9">6</tspan></text>
<line x1="192.9" y1="28.45" x2="196.4" y2="28.45" stroke="#222" stroke-width="1"/>
<text x="187.4" y="32.75" font-family='"Liberation Sans", sans-serif' font-size="10" font-weight="normal" text-anchor="end" fill="#222" textLength="15.4" lengthAdjust="spacingAndGlyphs" stroke="#222" stroke-width="0.25">10<tspan font-size="7.2" dy="-3.9">7</tspan></text>
<line x1="200.9" y1="112.6" x2="200.9" y2="116.1" stroke="#222" stroke-width="1"/>
<line x1="235.9" y1="112.6" x2="235.9" y2="116.1" stroke="#222" stroke-width="1"/>
<line x1="270.9" y1="112.6" x2="270.9" y2="116.1" stroke="#222" stroke-width="1"/>
<line x1="197.51" y1="112.6" x2="197.51" y2="114.8" stroke="#222" stroke-width="0.8"/>
<line x1="199.3" y1="112.6" x2="199.3" y2="114.8" stroke="#222" stroke-width="0.8"/>
<line x1="211.44" y1="112.6" x2="211.44" y2="114.8" stroke="#222" stroke-width="0.8"/>
<line x1="217.6" y1="112.6" x2="217.6" y2="114.8" stroke="#222" stroke-width="0.8"/>
<line x1="221.97" y1="112.6" x2="221.97" y2="114.8" stroke="#222" stroke-width="0.8"/>
<line x1="225.36" y1="112.6" x2="225.36" y2="114.8" stroke="#222" stroke-width="0.8"/>
<line x1="228.14" y1="112.6" x2="228.14" y2="114.8" stroke="#222" stroke-width="0.8"/>
<line x1="230.48" y1="112.6" x2="230.48" y2="114.8" stroke="#222" stroke-width="0.8"/>
<line x1="232.51" y1="112.6" x2="232.51" y2="114.8" stroke="#222" stroke-width="0.8"/>
<line x1="234.3" y1="112.6" x2="234.3" y2="114.8" stroke="#222" stroke-width="0.8"/>
<line x1="246.44" y1="112.6" x2="246.44" y2="114.8" stroke="#222" stroke-width="0.8"/>
<line x1="252.6" y1="112.6" x2="252.6" y2="114.8" stroke="#222" stroke-width="0.8"/>
<line x1="256.97" y1="112.6" x2="256.97" y2="114.8" stroke="#222" stroke-width="0.8"/>
<line x1="260.36" y1="112.6" x2="260.36" y2="114.8" stroke="#222" stroke-width="0.8"/>
<line x1="263.14" y1="112.6" x2="263.14" y2="114.8" stroke="#222" stroke-width="0.8"/>
<line x1="265.48" y1="112.6" x2="265.48" y2="114.8" stroke="#222" stroke-width="0.8"/>
<line x1="267.51" y1="112.6" x2="267.51" y2="114.8" stroke="#222" stroke-width="0.8"/>
<line x1="269.3" y1="112.6" x2="269.3" y2="114.8" stroke="#222" stroke-width="0.8"/>
<text x="201.9" y="132" font-family='"Liberation Sans", sans-serif' font-size="10.5" font-weight="normal" text-anchor="middle" fill="#222" stroke="#222" stroke-width="0.22" >0.01</text>
<text x="236.9" y="132" font-family='"Liberation Sans", sans-serif' font-size="10.5" font-weight="normal" text-anchor="middle" fill="#222" stroke="#222" stroke-width="0.22" >0.1</text>
<text x="271.9" y="132" font-family='"Liberation Sans", sans-serif' font-size="10.5" font-weight="normal" text-anchor="middle" fill="#222" stroke="#222" stroke-width="0.22" >1</text>
<text x="237" y="145.5" font-family='"Liberation Sans", sans-serif' font-size="11" font-weight="normal" text-anchor="middle" fill="#222" stroke="#222" stroke-width="0.22" >Illumination (sun)</text>
<text x="231.5" y="91.5" font-family='"Liberation Sans", sans-serif' font-size="9.5" font-weight="normal" text-anchor="start" fill="#222" stroke="#222" stroke-width="0.22" >slope</text>
<text x="231.5" y="103.5" font-family='"Liberation Sans", sans-serif' font-size="9.5" font-weight="normal" text-anchor="start" fill="#222" stroke="#222" stroke-width="0.22" >1.11±0.02</text>
<text x="154.3" y="70.6" font-family='"Liberation Sans", sans-serif' font-size="13" font-weight="normal" text-anchor="middle" fill="#222" stroke="#222" stroke-width="0.22" transform="rotate(-90 154.3 70.6)">ε<tspan font-size="10" dy="4.8">0</tspan></text>
<line x1="196.6" y1="105.8" x2="281" y2="31" stroke="#333" stroke-width="0.9"/>
<circle cx="201.6" cy="100.4" r="2.75" fill="#e01818" stroke="#7a0c0c" stroke-width="0.8"/>
<circle cx="218" cy="86.8" r="2.75" fill="#e01818" stroke="#7a0c0c" stroke-width="0.8"/>
<circle cx="225.9" cy="80" r="2.75" fill="#e01818" stroke="#7a0c0c" stroke-width="0.8"/>
<circle cx="232.8" cy="73.5" r="2.75" fill="#e01818" stroke="#7a0c0c" stroke-width="0.8"/>
<circle cx="236.1" cy="70.5" r="2.75" fill="#e01818" stroke="#7a0c0c" stroke-width="0.8"/>
<circle cx="246.3" cy="62.9" r="2.75" fill="#e01818" stroke="#7a0c0c" stroke-width="0.8"/>
<circle cx="252.6" cy="56.9" r="2.75" fill="#e01818" stroke="#7a0c0c" stroke-width="0.8"/>
<circle cx="256.6" cy="52.4" r="2.75" fill="#e01818" stroke="#7a0c0c" stroke-width="0.8"/>
<circle cx="260.2" cy="48.4" r="2.75" fill="#e01818" stroke="#7a0c0c" stroke-width="0.8"/>
<circle cx="263.3" cy="44.8" r="2.75" fill="#e01818" stroke="#7a0c0c" stroke-width="0.8"/>
<circle cx="266" cy="42.1" r="2.75" fill="#e01818" stroke="#7a0c0c" stroke-width="0.8"/>
<circle cx="268.3" cy="39.9" r="2.75" fill="#e01818" stroke="#7a0c0c" stroke-width="0.8"/>
<circle cx="270.5" cy="37.6" r="2.75" fill="#e01818" stroke="#7a0c0c" stroke-width="0.8"/>
<rect x="336.9" y="38.2" width="205.89999999999998" height="165.7" fill="none" stroke="#111" stroke-width="1.5"/>
<line x1="333.4" y1="189.6" x2="336.9" y2="189.6" stroke="#222" stroke-width="1"/>
<text x="331.9" y="192.8" font-family='"Liberation Sans", sans-serif' font-size="9.4" font-weight="normal" text-anchor="end" fill="#222" textLength="13.2" lengthAdjust="spacingAndGlyphs" stroke="#222" stroke-width="0.22" >0.0</text>
<line x1="333.4" y1="162.2" x2="336.9" y2="162.2" stroke="#222" stroke-width="1"/>
<text x="331.9" y="165.4" font-family='"Liberation Sans", sans-serif' font-size="9.4" font-weight="normal" text-anchor="end" fill="#222" textLength="13.2" lengthAdjust="spacingAndGlyphs" stroke="#222" stroke-width="0.22" >0.2</text>
<line x1="333.4" y1="134.8" x2="336.9" y2="134.8" stroke="#222" stroke-width="1"/>
<text x="331.9" y="138" font-family='"Liberation Sans", sans-serif' font-size="9.4" font-weight="normal" text-anchor="end" fill="#222" textLength="13.2" lengthAdjust="spacingAndGlyphs" stroke="#222" stroke-width="0.22" >0.4</text>
<line x1="333.4" y1="107.4" x2="336.9" y2="107.4" stroke="#222" stroke-width="1"/>
<text x="331.9" y="110.6" font-family='"Liberation Sans", sans-serif' font-size="9.4" font-weight="normal" text-anchor="end" fill="#222" textLength="13.2" lengthAdjust="spacingAndGlyphs" stroke="#222" stroke-width="0.22" >0.6</text>
<line x1="333.4" y1="80" x2="336.9" y2="80" stroke="#222" stroke-width="1"/>
<text x="331.9" y="83.2" font-family='"Liberation Sans", sans-serif' font-size="9.4" font-weight="normal" text-anchor="end" fill="#222" textLength="13.2" lengthAdjust="spacingAndGlyphs" stroke="#222" stroke-width="0.22" >0.8</text>
<line x1="333.4" y1="52.6" x2="336.9" y2="52.6" stroke="#222" stroke-width="1"/>
<text x="331.9" y="55.8" font-family='"Liberation Sans", sans-serif' font-size="9.4" font-weight="normal" text-anchor="end" fill="#222" textLength="13.2" lengthAdjust="spacingAndGlyphs" stroke="#222" stroke-width="0.22" >1.0</text>
<line x1="334.9" y1="175.9" x2="336.9" y2="175.9" stroke="#222" stroke-width="0.8"/>
<line x1="334.9" y1="148.5" x2="336.9" y2="148.5" stroke="#222" stroke-width="0.8"/>
<line x1="334.9" y1="121.1" x2="336.9" y2="121.1" stroke="#222" stroke-width="0.8"/>
<line x1="334.9" y1="93.7" x2="336.9" y2="93.7" stroke="#222" stroke-width="0.8"/>
<line x1="334.9" y1="66.3" x2="336.9" y2="66.3" stroke="#222" stroke-width="0.8"/>
<line x1="337" y1="203.9" x2="337" y2="206.9" stroke="#222" stroke-width="1"/>
<line x1="345.97" y1="203.9" x2="345.97" y2="205.7" stroke="#222" stroke-width="0.7"/>
<line x1="351.22" y1="203.9" x2="351.22" y2="205.7" stroke="#222" stroke-width="0.7"/>
<line x1="354.94" y1="203.9" x2="354.94" y2="205.7" stroke="#222" stroke-width="0.7"/>
<line x1="357.83" y1="203.9" x2="357.83" y2="205.7" stroke="#222" stroke-width="0.7"/>
<line x1="360.19" y1="203.9" x2="360.19" y2="205.7" stroke="#222" stroke-width="0.7"/>
<line x1="362.18" y1="203.9" x2="362.18" y2="205.7" stroke="#222" stroke-width="0.7"/>
<line x1="363.91" y1="203.9" x2="363.91" y2="205.7" stroke="#222" stroke-width="0.7"/>
<line x1="365.44" y1="203.9" x2="365.44" y2="205.7" stroke="#222" stroke-width="0.7"/>
<line x1="366.8" y1="203.9" x2="366.8" y2="206.9" stroke="#222" stroke-width="1"/>
<line x1="375.77" y1="203.9" x2="375.77" y2="205.7" stroke="#222" stroke-width="0.7"/>
<line x1="381.02" y1="203.9" x2="381.02" y2="205.7" stroke="#222" stroke-width="0.7"/>
<line x1="384.74" y1="203.9" x2="384.74" y2="205.7" stroke="#222" stroke-width="0.7"/>
<line x1="387.63" y1="203.9" x2="387.63" y2="205.7" stroke="#222" stroke-width="0.7"/>
<line x1="389.99" y1="203.9" x2="389.99" y2="205.7" stroke="#222" stroke-width="0.7"/>
<line x1="391.98" y1="203.9" x2="391.98" y2="205.7" stroke="#222" stroke-width="0.7"/>
<line x1="393.71" y1="203.9" x2="393.71" y2="205.7" stroke="#222" stroke-width="0.7"/>
<line x1="395.24" y1="203.9" x2="395.24" y2="205.7" stroke="#222" stroke-width="0.7"/>
<line x1="396.6" y1="203.9" x2="396.6" y2="206.9" stroke="#222" stroke-width="1"/>
<line x1="405.57" y1="203.9" x2="405.57" y2="205.7" stroke="#222" stroke-width="0.7"/>
<line x1="410.82" y1="203.9" x2="410.82" y2="205.7" stroke="#222" stroke-width="0.7"/>
<line x1="414.54" y1="203.9" x2="414.54" y2="205.7" stroke="#222" stroke-width="0.7"/>
<line x1="417.43" y1="203.9" x2="417.43" y2="205.7" stroke="#222" stroke-width="0.7"/>
<line x1="419.79" y1="203.9" x2="419.79" y2="205.7" stroke="#222" stroke-width="0.7"/>
<line x1="421.78" y1="203.9" x2="421.78" y2="205.7" stroke="#222" stroke-width="0.7"/>
<line x1="423.51" y1="203.9" x2="423.51" y2="205.7" stroke="#222" stroke-width="0.7"/>
<line x1="425.04" y1="203.9" x2="425.04" y2="205.7" stroke="#222" stroke-width="0.7"/>
<line x1="426.4" y1="203.9" x2="426.4" y2="206.9" stroke="#222" stroke-width="1"/>
<line x1="435.37" y1="203.9" x2="435.37" y2="205.7" stroke="#222" stroke-width="0.7"/>
<line x1="440.62" y1="203.9" x2="440.62" y2="205.7" stroke="#222" stroke-width="0.7"/>
<line x1="444.34" y1="203.9" x2="444.34" y2="205.7" stroke="#222" stroke-width="0.7"/>
<line x1="447.23" y1="203.9" x2="447.23" y2="205.7" stroke="#222" stroke-width="0.7"/>
<line x1="449.59" y1="203.9" x2="449.59" y2="205.7" stroke="#222" stroke-width="0.7"/>
<line x1="451.58" y1="203.9" x2="451.58" y2="205.7" stroke="#222" stroke-width="0.7"/>
<line x1="453.31" y1="203.9" x2="453.31" y2="205.7" stroke="#222" stroke-width="0.7"/>
<line x1="454.84" y1="203.9" x2="454.84" y2="205.7" stroke="#222" stroke-width="0.7"/>
<line x1="456.2" y1="203.9" x2="456.2" y2="206.9" stroke="#222" stroke-width="1"/>
<line x1="465.17" y1="203.9" x2="465.17" y2="205.7" stroke="#222" stroke-width="0.7"/>
<line x1="470.42" y1="203.9" x2="470.42" y2="205.7" stroke="#222" stroke-width="0.7"/>
<line x1="474.14" y1="203.9" x2="474.14" y2="205.7" stroke="#222" stroke-width="0.7"/>
<line x1="477.03" y1="203.9" x2="477.03" y2="205.7" stroke="#222" stroke-width="0.7"/>
<line x1="479.39" y1="203.9" x2="479.39" y2="205.7" stroke="#222" stroke-width="0.7"/>
<line x1="481.38" y1="203.9" x2="481.38" y2="205.7" stroke="#222" stroke-width="0.7"/>
<line x1="483.11" y1="203.9" x2="483.11" y2="205.7" stroke="#222" stroke-width="0.7"/>
<line x1="484.64" y1="203.9" x2="484.64" y2="205.7" stroke="#222" stroke-width="0.7"/>
<line x1="486" y1="203.9" x2="486" y2="206.9" stroke="#222" stroke-width="1"/>
<line x1="494.97" y1="203.9" x2="494.97" y2="205.7" stroke="#222" stroke-width="0.7"/>
<line x1="500.22" y1="203.9" x2="500.22" y2="205.7" stroke="#222" stroke-width="0.7"/>
<line x1="503.94" y1="203.9" x2="503.94" y2="205.7" stroke="#222" stroke-width="0.7"/>
<line x1="506.83" y1="203.9" x2="506.83" y2="205.7" stroke="#222" stroke-width="0.7"/>
<line x1="509.19" y1="203.9" x2="509.19" y2="205.7" stroke="#222" stroke-width="0.7"/>
<line x1="511.18" y1="203.9" x2="511.18" y2="205.7" stroke="#222" stroke-width="0.7"/>
<line x1="512.91" y1="203.9" x2="512.91" y2="205.7" stroke="#222" stroke-width="0.7"/>
<line x1="514.44" y1="203.9" x2="514.44" y2="205.7" stroke="#222" stroke-width="0.7"/>
<line x1="515.8" y1="203.9" x2="515.8" y2="206.9" stroke="#222" stroke-width="1"/>
<line x1="524.77" y1="203.9" x2="524.77" y2="205.7" stroke="#222" stroke-width="0.7"/>
<line x1="530.02" y1="203.9" x2="530.02" y2="205.7" stroke="#222" stroke-width="0.7"/>
<line x1="533.74" y1="203.9" x2="533.74" y2="205.7" stroke="#222" stroke-width="0.7"/>
<line x1="536.63" y1="203.9" x2="536.63" y2="205.7" stroke="#222" stroke-width="0.7"/>
<line x1="538.99" y1="203.9" x2="538.99" y2="205.7" stroke="#222" stroke-width="0.7"/>
<line x1="540.98" y1="203.9" x2="540.98" y2="205.7" stroke="#222" stroke-width="0.7"/>
<line x1="542.71" y1="203.9" x2="542.71" y2="205.7" stroke="#222" stroke-width="0.7"/>
<text x="336.6" y="218.3" font-family='"Liberation Sans", sans-serif' font-size="9" font-weight="normal" text-anchor="middle" fill="#222" textLength="34.5" lengthAdjust="spacingAndGlyphs" stroke="#222" stroke-width="0.22" >1.0x10<tspan font-size="6.5" dy="-3.6">13</tspan></text>
<text x="396.2" y="218.3" font-family='"Liberation Sans", sans-serif' font-size="9" font-weight="normal" text-anchor="middle" fill="#222" textLength="34.5" lengthAdjust="spacingAndGlyphs" stroke="#222" stroke-width="0.22" >1.0x10<tspan font-size="6.5" dy="-3.6">15</tspan></text>
<text x="455.8" y="218.3" font-family='"Liberation Sans", sans-serif' font-size="9" font-weight="normal" text-anchor="middle" fill="#222" textLength="34.5" lengthAdjust="spacingAndGlyphs" stroke="#222" stroke-width="0.22" >1.0x10<tspan font-size="6.5" dy="-3.6">17</tspan></text>
<text x="515.4" y="218.3" font-family='"Liberation Sans", sans-serif' font-size="9" font-weight="normal" text-anchor="middle" fill="#222" textLength="34.5" lengthAdjust="spacingAndGlyphs" stroke="#222" stroke-width="0.22" >1.0x10<tspan font-size="6.5" dy="-3.6">19</tspan></text>
<text x="439.6" y="234" font-family='"Liberation Sans", sans-serif' font-size="10" font-weight="normal" text-anchor="middle" fill="#222" textLength="149.5" lengthAdjust="spacingAndGlyphs" stroke="#222" stroke-width="0.22" >Excitation Density (Photons/cm<tspan font-size="6.5" dy="-3.8">3</tspan><tspan dy="3.8">)</tspan></text>
<text x="307.2" y="121.3" font-family='"Liberation Sans", sans-serif' font-size="10" font-weight="normal" text-anchor="middle" fill="#222" textLength="141.5" lengthAdjust="spacingAndGlyphs" stroke="#222" stroke-width="0.22" transform="rotate(-90 307.2 121.3)">Free Charge Fraction (x = n<tspan font-size="6.5" dy="2">e</tspan><tspan dy="-2">/n)</tspan></text>
<path d="M337.4,52.62 L338.08,52.62 L338.76,52.62 L339.44,52.63 L340.12,52.63 L340.8,52.63 L341.48,52.63 L342.16,52.63 L342.84,52.63 L343.52,52.64 L344.2,52.64 L344.88,52.64 L345.56,52.64 L346.23,52.64 L346.91,52.65 L347.59,52.65 L348.27,52.65 L348.95,52.65 L349.63,52.66 L350.31,52.66 L350.99,52.66 L351.67,52.67 L352.35,52.67 L353.03,52.67 L353.71,52.68 L354.39,52.68 L355.07,52.69 L355.75,52.69 L356.43,52.7 L357.11,52.7 L357.79,52.71 L358.47,52.71 L359.15,52.72 L359.83,52.72 L360.51,52.73 L361.19,52.74 L361.87,52.74 L362.55,52.75 L363.22,52.76 L363.9,52.77 L364.58,52.78 L365.26,52.79 L365.94,52.8 L366.62,52.81 L367.3,52.82 L367.98,52.83 L368.66,52.84 L369.34,52.86 L370.02,52.87 L370.7,52.89 L371.38,52.9 L372.06,52.92 L372.74,52.93 L373.42,52.95 L374.1,52.97 L374.78,52.99 L375.46,53.01 L376.14,53.03 L376.82,53.06 L377.5,53.08 L378.18,53.11 L378.86,53.13 L379.54,53.16 L380.21,53.19 L380.89,53.22 L381.57,53.26 L382.25,53.29 L382.93,53.33 L383.61,53.37 L384.29,53.41 L384.97,53.45 L385.65,53.5 L386.33,53.55 L387.01,53.6 L387.69,53.65 L388.37,53.71 L389.05,53.76 L389.73,53.83 L390.41,53.89 L391.09,53.96 L391.77,54.03 L392.45,54.11 L393.13,54.19 L393.81,54.27 L394.49,54.36 L395.17,54.45 L395.85,54.55 L396.53,54.65 L397.2,54.75 L397.88,54.87 L398.56,54.98 L399.24,55.11 L399.92,55.24 L400.6,55.38 L401.28,55.52 L401.96,55.67 L402.64,55.83 L403.32,55.99 L404,56.17 L404.68,56.35 L405.36,56.54 L406.04,56.74 L406.72,56.95 L407.4,57.17 L408.08,57.4 L408.76,57.64 L409.44,57.89 L410.12,58.15 L410.8,58.43 L411.48,58.71 L412.16,59.01 L412.84,59.33 L413.52,59.65 L414.19,60 L414.87,60.35 L415.55,60.72 L416.23,61.11 L416.91,61.51 L417.59,61.93 L418.27,62.37 L418.95,62.82 L419.63,63.29 L420.31,63.78 L420.99,64.29 L421.67,64.81 L422.35,65.36 L423.03,65.93 L423.71,66.51 L424.39,67.12 L425.07,67.75 L425.75,68.39 L426.43,69.06 L427.11,69.75 L427.79,70.46 L428.47,71.19 L429.15,71.95 L429.83,72.72 L430.51,73.52 L431.18,74.34 L431.86,75.18 L432.54,76.04 L433.22,76.92 L433.9,77.82 L434.58,78.74 L435.26,79.69 L435.94,80.65 L436.62,81.63 L437.3,82.63 L437.98,83.65 L438.66,84.69 L439.34,85.74 L440.02,86.81 L440.7,87.9 L441.38,89 L442.06,90.12 L442.74,91.25 L443.42,92.39 L444.1,93.54 L444.78,94.71 L445.46,95.89 L446.14,97.07 L446.82,98.27 L447.49,99.47 L448.17,100.68 L448.85,101.9 L449.53,103.12 L450.21,104.34 L450.89,105.57 L451.57,106.8 L452.25,108.04 L452.93,109.27 L453.61,110.5 L454.29,111.74 L454.97,112.97 L455.65,114.2 L456.33,115.43 L457.01,116.65 L457.69,117.87 L458.37,119.08 L459.05,120.29 L459.73,121.49 L460.41,122.68 L461.09,123.86 L461.77,125.04 L462.45,126.21 L463.13,127.37 L463.81,128.52 L464.48,129.66 L465.16,130.78 L465.84,131.9 L466.52,133 L467.2,134.1 L467.88,135.18 L468.56,136.25 L469.24,137.3 L469.92,138.35 L470.6,139.37 L471.28,140.39 L471.96,141.39 L472.64,142.38 L473.32,143.36 L474,144.32 L474.68,145.26 L475.36,146.2 L476.04,147.11 L476.72,148.02 L477.4,148.91 L478.08,149.78 L478.76,150.64 L479.44,151.49 L480.12,152.32 L480.8,153.14 L481.47,153.94 L482.15,154.73 L482.83,155.5 L483.51,156.27 L484.19,157.01 L484.87,157.75 L485.55,158.47 L486.23,159.17 L486.91,159.86 L487.59,160.54 L488.27,161.21 L488.95,161.86 L489.63,162.5 L490.31,163.13 L490.99,163.74 L491.67,164.34 L492.35,164.93 L493.03,165.51 L493.71,166.08 L494.39,166.63 L495.07,167.17 L495.75,167.7 L496.43,168.22 L497.11,168.73 L497.79,169.23 L498.46,169.72 L499.14,170.19 L499.82,170.66 L500.5,171.11 L501.18,171.56 L501.86,171.99 L502.54,172.42 L503.22,172.83 L503.9,173.24 L504.58,173.64 L505.26,174.03 L505.94,174.41 L506.62,174.78 L507.3,175.14 L507.98,175.5 L508.66,175.84 L509.34,176.18 L510.02,176.51 L510.7,176.83 L511.38,177.15 L512.06,177.46 L512.74,177.76 L513.42,178.05 L514.1,178.34 L514.78,178.62 L515.45,178.89 L516.13,179.16 L516.81,179.42 L517.49,179.67 L518.17,179.92 L518.85,180.16 L519.53,180.4 L520.21,180.63 L520.89,180.85 L521.57,181.07 L522.25,181.28 L522.93,181.49 L523.61,181.7 L524.29,181.9 L524.97,182.09 L525.65,182.28 L526.33,182.46 L527.01,182.64 L527.69,182.82 L528.37,182.99 L529.05,183.16 L529.73,183.32 L530.41,183.48 L531.09,183.64 L531.77,183.79 L532.44,183.93 L533.12,184.08 L533.8,184.22 L534.48,184.35 L535.16,184.49 L535.84,184.62 L536.52,184.74 L537.2,184.87 L537.88,184.99 L538.56,185.11 L539.24,185.22 L539.92,185.33 L540.6,185.44" stroke="#6a3fc8" stroke-width="1.7" fill="none" stroke-linejoin="round" stroke-linecap="round" />
<path d="M337.4,52.61 L338.08,52.62 L338.76,52.62 L339.44,52.62 L340.12,52.62 L340.8,52.62 L341.48,52.62 L342.16,52.62 L342.84,52.62 L343.52,52.62 L344.2,52.62 L344.88,52.63 L345.56,52.63 L346.23,52.63 L346.91,52.63 L347.59,52.63 L348.27,52.63 L348.95,52.64 L349.63,52.64 L350.31,52.64 L350.99,52.64 L351.67,52.64 L352.35,52.65 L353.03,52.65 L353.71,52.65 L354.39,52.65 L355.07,52.66 L355.75,52.66 L356.43,52.66 L357.11,52.67 L357.79,52.67 L358.47,52.67 L359.15,52.68 L359.83,52.68 L360.51,52.69 L361.19,52.69 L361.87,52.7 L362.55,52.7 L363.22,52.71 L363.9,52.71 L364.58,52.72 L365.26,52.72 L365.94,52.73 L366.62,52.74 L367.3,52.75 L367.98,52.75 L368.66,52.76 L369.34,52.77 L370.02,52.78 L370.7,52.79 L371.38,52.8 L372.06,52.81 L372.74,52.82 L373.42,52.83 L374.1,52.85 L374.78,52.86 L375.46,52.87 L376.14,52.89 L376.82,52.9 L377.5,52.92 L378.18,52.94 L378.86,52.95 L379.54,52.97 L380.21,52.99 L380.89,53.01 L381.57,53.04 L382.25,53.06 L382.93,53.08 L383.61,53.11 L384.29,53.14 L384.97,53.17 L385.65,53.2 L386.33,53.23 L387.01,53.26 L387.69,53.3 L388.37,53.33 L389.05,53.37 L389.73,53.41 L390.41,53.46 L391.09,53.5 L391.77,53.55 L392.45,53.6 L393.13,53.66 L393.81,53.71 L394.49,53.77 L395.17,53.83 L395.85,53.9 L396.53,53.97 L397.2,54.04 L397.88,54.11 L398.56,54.19 L399.24,54.28 L399.92,54.37 L400.6,54.46 L401.28,54.56 L401.96,54.66 L402.64,54.77 L403.32,54.88 L404,55 L404.68,55.12 L405.36,55.25 L406.04,55.39 L406.72,55.53 L407.4,55.69 L408.08,55.84 L408.76,56.01 L409.44,56.18 L410.12,56.37 L410.8,56.56 L411.48,56.76 L412.16,56.97 L412.84,57.19 L413.52,57.42 L414.19,57.66 L414.87,57.92 L415.55,58.18 L416.23,58.46 L416.91,58.74 L417.59,59.05 L418.27,59.36 L418.95,59.69 L419.63,60.03 L420.31,60.39 L420.99,60.76 L421.67,61.15 L422.35,61.56 L423.03,61.98 L423.71,62.41 L424.39,62.87 L425.07,63.34 L425.75,63.83 L426.43,64.34 L427.11,64.87 L427.79,65.42 L428.47,65.99 L429.15,66.58 L429.83,67.18 L430.51,67.81 L431.18,68.46 L431.86,69.13 L432.54,69.83 L433.22,70.54 L433.9,71.27 L434.58,72.03 L435.26,72.81 L435.94,73.61 L436.62,74.43 L437.3,75.27 L437.98,76.13 L438.66,77.01 L439.34,77.92 L440.02,78.84 L440.7,79.79 L441.38,80.75 L442.06,81.74 L442.74,82.74 L443.42,83.76 L444.1,84.8 L444.78,85.86 L445.46,86.93 L446.14,88.02 L446.82,89.12 L447.49,90.24 L448.17,91.37 L448.85,92.51 L449.53,93.67 L450.21,94.84 L450.89,96.01 L451.57,97.2 L452.25,98.4 L452.93,99.6 L453.61,100.81 L454.29,102.03 L454.97,103.25 L455.65,104.47 L456.33,105.7 L457.01,106.94 L457.69,108.17 L458.37,109.4 L459.05,110.64 L459.73,111.87 L460.41,113.1 L461.09,114.33 L461.77,115.56 L462.45,116.78 L463.13,118 L463.81,119.21 L464.48,120.41 L465.16,121.61 L465.84,122.81 L466.52,123.99 L467.2,125.17 L467.88,126.33 L468.56,127.49 L469.24,128.64 L469.92,129.78 L470.6,130.9 L471.28,132.02 L471.96,133.12 L472.64,134.21 L473.32,135.29 L474,136.36 L474.68,137.41 L475.36,138.46 L476.04,139.48 L476.72,140.5 L477.4,141.5 L478.08,142.49 L478.76,143.46 L479.44,144.42 L480.12,145.36 L480.8,146.29 L481.47,147.21 L482.15,148.11 L482.83,149 L483.51,149.87 L484.19,150.73 L484.87,151.58 L485.55,152.41 L486.23,153.22 L486.91,154.03 L487.59,154.81 L488.27,155.59 L488.95,156.35 L489.63,157.09 L490.31,157.82 L490.99,158.54 L491.67,159.25 L492.35,159.94 L493.03,160.61 L493.71,161.28 L494.39,161.93 L495.07,162.57 L495.75,163.19 L496.43,163.81 L497.11,164.41 L497.79,165 L498.46,165.57 L499.14,166.14 L499.82,166.69 L500.5,167.23 L501.18,167.76 L501.86,168.28 L502.54,168.78 L503.22,169.28 L503.9,169.77 L504.58,170.24 L505.26,170.71 L505.94,171.16 L506.62,171.6 L507.3,172.04 L507.98,172.46 L508.66,172.88 L509.34,173.28 L510.02,173.68 L510.7,174.07 L511.38,174.45 L512.06,174.82 L512.74,175.18 L513.42,175.53 L514.1,175.88 L514.78,176.22 L515.45,176.55 L516.13,176.87 L516.81,177.18 L517.49,177.49 L518.17,177.79 L518.85,178.08 L519.53,178.37 L520.21,178.65 L520.89,178.92 L521.57,179.18 L522.25,179.44 L522.93,179.7 L523.61,179.94 L524.29,180.19 L524.97,180.42 L525.65,180.65 L526.33,180.87 L527.01,181.09 L527.69,181.31 L528.37,181.52 L529.05,181.72 L529.73,181.92 L530.41,182.11 L531.09,182.3 L531.77,182.48 L532.44,182.66 L533.12,182.84 L533.8,183.01 L534.48,183.18 L535.16,183.34 L535.84,183.5 L536.52,183.65 L537.2,183.8 L537.88,183.95 L538.56,184.09 L539.24,184.23 L539.92,184.37 L540.6,184.5" stroke="#4fc3e6" stroke-width="1.7" fill="none" stroke-linejoin="round" stroke-linecap="round" />
<path d="M337.4,52.61 L338.08,52.61 L338.76,52.61 L339.44,52.61 L340.12,52.61 L340.8,52.61 L341.48,52.62 L342.16,52.62 L342.84,52.62 L343.52,52.62 L344.2,52.62 L344.88,52.62 L345.56,52.62 L346.23,52.62 L346.91,52.62 L347.59,52.62 L348.27,52.63 L348.95,52.63 L349.63,52.63 L350.31,52.63 L350.99,52.63 L351.67,52.63 L352.35,52.63 L353.03,52.64 L353.71,52.64 L354.39,52.64 L355.07,52.64 L355.75,52.65 L356.43,52.65 L357.11,52.65 L357.79,52.65 L358.47,52.66 L359.15,52.66 L359.83,52.66 L360.51,52.67 L361.19,52.67 L361.87,52.67 L362.55,52.68 L363.22,52.68 L363.9,52.68 L364.58,52.69 L365.26,52.69 L365.94,52.7 L366.62,52.7 L367.3,52.71 L367.98,52.72 L368.66,52.72 L369.34,52.73 L370.02,52.74 L370.7,52.74 L371.38,52.75 L372.06,52.76 L372.74,52.77 L373.42,52.78 L374.1,52.79 L374.78,52.8 L375.46,52.81 L376.14,52.82 L376.82,52.83 L377.5,52.84 L378.18,52.86 L378.86,52.87 L379.54,52.88 L380.21,52.9 L380.89,52.91 L381.57,52.93 L382.25,52.95 L382.93,52.97 L383.61,52.99 L384.29,53.01 L384.97,53.03 L385.65,53.05 L386.33,53.08 L387.01,53.1 L387.69,53.13 L388.37,53.16 L389.05,53.19 L389.73,53.22 L390.41,53.25 L391.09,53.29 L391.77,53.32 L392.45,53.36 L393.13,53.4 L393.81,53.45 L394.49,53.49 L395.17,53.54 L395.85,53.59 L396.53,53.64 L397.2,53.7 L397.88,53.75 L398.56,53.82 L399.24,53.88 L399.92,53.95 L400.6,54.02 L401.28,54.09 L401.96,54.17 L402.64,54.26 L403.32,54.34 L404,54.43 L404.68,54.53 L405.36,54.63 L406.04,54.74 L406.72,54.85 L407.4,54.97 L408.08,55.09 L408.76,55.22 L409.44,55.35 L410.12,55.5 L410.8,55.65 L411.48,55.8 L412.16,55.97 L412.84,56.14 L413.52,56.32 L414.19,56.51 L414.87,56.71 L415.55,56.91 L416.23,57.13 L416.91,57.36 L417.59,57.6 L418.27,57.85 L418.95,58.11 L419.63,58.38 L420.31,58.67 L420.99,58.97 L421.67,59.28 L422.35,59.6 L423.03,59.94 L423.71,60.3 L424.39,60.66 L425.07,61.05 L425.75,61.45 L426.43,61.86 L427.11,62.3 L427.79,62.75 L428.47,63.22 L429.15,63.7 L429.83,64.21 L430.51,64.73 L431.18,65.28 L431.86,65.84 L432.54,66.42 L433.22,67.02 L433.9,67.65 L434.58,68.29 L435.26,68.96 L435.94,69.64 L436.62,70.35 L437.3,71.08 L437.98,71.83 L438.66,72.6 L439.34,73.39 L440.02,74.21 L440.7,75.05 L441.38,75.9 L442.06,76.78 L442.74,77.68 L443.42,78.6 L444.1,79.54 L444.78,80.5 L445.46,81.48 L446.14,82.48 L446.82,83.49 L447.49,84.53 L448.17,85.58 L448.85,86.65 L449.53,87.73 L450.21,88.83 L450.89,89.94 L451.57,91.07 L452.25,92.21 L452.93,93.36 L453.61,94.53 L454.29,95.7 L454.97,96.89 L455.65,98.08 L456.33,99.28 L457.01,100.49 L457.69,101.71 L458.37,102.93 L459.05,104.15 L459.73,105.38 L460.41,106.61 L461.09,107.85 L461.77,109.08 L462.45,110.31 L463.13,111.55 L463.81,112.78 L464.48,114.01 L465.16,115.24 L465.84,116.46 L466.52,117.68 L467.2,118.89 L467.88,120.1 L468.56,121.3 L469.24,122.49 L469.92,123.68 L470.6,124.86 L471.28,126.03 L471.96,127.19 L472.64,128.34 L473.32,129.48 L474,130.61 L474.68,131.73 L475.36,132.83 L476.04,133.93 L476.72,135.01 L477.4,136.08 L478.08,137.14 L478.76,138.18 L479.44,139.22 L480.12,140.23 L480.8,141.24 L481.47,142.23 L482.15,143.21 L482.83,144.17 L483.51,145.12 L484.19,146.05 L484.87,146.97 L485.55,147.88 L486.23,148.77 L486.91,149.65 L487.59,150.51 L488.27,151.36 L488.95,152.19 L489.63,153.01 L490.31,153.82 L490.99,154.61 L491.67,155.39 L492.35,156.15 L493.03,156.9 L493.71,157.63 L494.39,158.35 L495.07,159.06 L495.75,159.76 L496.43,160.44 L497.11,161.11 L497.79,161.76 L498.46,162.4 L499.14,163.03 L499.82,163.65 L500.5,164.25 L501.18,164.84 L501.86,165.42 L502.54,165.99 L503.22,166.55 L503.9,167.09 L504.58,167.62 L505.26,168.14 L505.94,168.65 L506.62,169.15 L507.3,169.64 L507.98,170.12 L508.66,170.59 L509.34,171.04 L510.02,171.49 L510.7,171.93 L511.38,172.35 L512.06,172.77 L512.74,173.18 L513.42,173.58 L514.1,173.97 L514.78,174.35 L515.45,174.72 L516.13,175.09 L516.81,175.44 L517.49,175.79 L518.17,176.13 L518.85,176.46 L519.53,176.78 L520.21,177.1 L520.89,177.41 L521.57,177.71 L522.25,178 L522.93,178.29 L523.61,178.57 L524.29,178.85 L524.97,179.11 L525.65,179.38 L526.33,179.63 L527.01,179.88 L527.69,180.12 L528.37,180.36 L529.05,180.59 L529.73,180.82 L530.41,181.04 L531.09,181.25 L531.77,181.46 L532.44,181.67 L533.12,181.87 L533.8,182.06 L534.48,182.25 L535.16,182.44 L535.84,182.62 L536.52,182.79 L537.2,182.96 L537.88,183.13 L538.56,183.3 L539.24,183.46 L539.92,183.61 L540.6,183.76" stroke="#7ed957" stroke-width="1.7" fill="none" stroke-linejoin="round" stroke-linecap="round" />
<path d="M337.4,52.61 L338.08,52.61 L338.76,52.61 L339.44,52.61 L340.12,52.61 L340.8,52.61 L341.48,52.61 L342.16,52.61 L342.84,52.61 L343.52,52.61 L344.2,52.61 L344.88,52.61 L345.56,52.61 L346.23,52.62 L346.91,52.62 L347.59,52.62 L348.27,52.62 L348.95,52.62 L349.63,52.62 L350.31,52.62 L350.99,52.62 L351.67,52.62 L352.35,52.62 L353.03,52.63 L353.71,52.63 L354.39,52.63 L355.07,52.63 L355.75,52.63 L356.43,52.63 L357.11,52.63 L357.79,52.64 L358.47,52.64 L359.15,52.64 L359.83,52.64 L360.51,52.65 L361.19,52.65 L361.87,52.65 L362.55,52.65 L363.22,52.66 L363.9,52.66 L364.58,52.66 L365.26,52.67 L365.94,52.67 L366.62,52.67 L367.3,52.68 L367.98,52.68 L368.66,52.68 L369.34,52.69 L370.02,52.69 L370.7,52.7 L371.38,52.7 L372.06,52.71 L372.74,52.72 L373.42,52.72 L374.1,52.73 L374.78,52.74 L375.46,52.74 L376.14,52.75 L376.82,52.76 L377.5,52.77 L378.18,52.78 L378.86,52.79 L379.54,52.8 L380.21,52.81 L380.89,52.82 L381.57,52.83 L382.25,52.84 L382.93,52.85 L383.61,52.87 L384.29,52.88 L384.97,52.9 L385.65,52.91 L386.33,52.93 L387.01,52.95 L387.69,52.97 L388.37,52.99 L389.05,53.01 L389.73,53.03 L390.41,53.05 L391.09,53.08 L391.77,53.1 L392.45,53.13 L393.13,53.16 L393.81,53.19 L394.49,53.22 L395.17,53.25 L395.85,53.29 L396.53,53.32 L397.2,53.36 L397.88,53.4 L398.56,53.45 L399.24,53.49 L399.92,53.54 L400.6,53.59 L401.28,53.64 L401.96,53.7 L402.64,53.75 L403.32,53.81 L404,53.88 L404.68,53.95 L405.36,54.02 L406.04,54.09 L406.72,54.17 L407.4,54.25 L408.08,54.34 L408.76,54.43 L409.44,54.53 L410.12,54.63 L410.8,54.74 L411.48,54.85 L412.16,54.96 L412.84,55.09 L413.52,55.22 L414.19,55.35 L414.87,55.49 L415.55,55.64 L416.23,55.8 L416.91,55.96 L417.59,56.14 L418.27,56.32 L418.95,56.51 L419.63,56.7 L420.31,56.91 L420.99,57.13 L421.67,57.36 L422.35,57.6 L423.03,57.84 L423.71,58.11 L424.39,58.38 L425.07,58.66 L425.75,58.96 L426.43,59.27 L427.11,59.6 L427.79,59.94 L428.47,60.29 L429.15,60.66 L429.83,61.04 L430.51,61.44 L431.18,61.86 L431.86,62.29 L432.54,62.74 L433.22,63.21 L433.9,63.7 L434.58,64.2 L435.26,64.72 L435.94,65.27 L436.62,65.83 L437.3,66.41 L437.98,67.01 L438.66,67.64 L439.34,68.28 L440.02,68.95 L440.7,69.63 L441.38,70.34 L442.06,71.07 L442.74,71.82 L443.42,72.59 L444.1,73.38 L444.78,74.2 L445.46,75.03 L446.14,75.89 L446.82,76.77 L447.49,77.67 L448.17,78.59 L448.85,79.52 L449.53,80.48 L450.21,81.46 L450.89,82.46 L451.57,83.48 L452.25,84.51 L452.93,85.56 L453.61,86.63 L454.29,87.71 L454.97,88.81 L455.65,89.93 L456.33,91.05 L457.01,92.19 L457.69,93.35 L458.37,94.51 L459.05,95.68 L459.73,96.87 L460.41,98.06 L461.09,99.26 L461.77,100.47 L462.45,101.69 L463.13,102.91 L463.81,104.13 L464.48,105.36 L465.16,106.59 L465.84,107.83 L466.52,109.06 L467.2,110.29 L467.88,111.53 L468.56,112.76 L469.24,113.99 L469.92,115.22 L470.6,116.44 L471.28,117.66 L471.96,118.87 L472.64,120.08 L473.32,121.28 L474,122.48 L474.68,123.66 L475.36,124.84 L476.04,126.01 L476.72,127.17 L477.4,128.32 L478.08,129.46 L478.76,130.59 L479.44,131.71 L480.12,132.82 L480.8,133.91 L481.47,134.99 L482.15,136.07 L482.83,137.12 L483.51,138.17 L484.19,139.2 L484.87,140.22 L485.55,141.22 L486.23,142.21 L486.91,143.19 L487.59,144.15 L488.27,145.1 L488.95,146.04 L489.63,146.96 L490.31,147.86 L490.99,148.76 L491.67,149.63 L492.35,150.5 L493.03,151.34 L493.71,152.18 L494.39,153 L495.07,153.8 L495.75,154.6 L496.43,155.37 L497.11,156.14 L497.79,156.89 L498.46,157.62 L499.14,158.34 L499.82,159.05 L500.5,159.75 L501.18,160.43 L501.86,161.1 L502.54,161.75 L503.22,162.39 L503.9,163.02 L504.58,163.64 L505.26,164.24 L505.94,164.83 L506.62,165.41 L507.3,165.98 L507.98,166.54 L508.66,167.08 L509.34,167.61 L510.02,168.14 L510.7,168.65 L511.38,169.14 L512.06,169.63 L512.74,170.11 L513.42,170.58 L514.1,171.03 L514.78,171.48 L515.45,171.92 L516.13,172.35 L516.81,172.76 L517.49,173.17 L518.17,173.57 L518.85,173.96 L519.53,174.34 L520.21,174.72 L520.89,175.08 L521.57,175.44 L522.25,175.78 L522.93,176.12 L523.61,176.45 L524.29,176.78 L524.97,177.09 L525.65,177.4 L526.33,177.71 L527.01,178 L527.69,178.29 L528.37,178.57 L529.05,178.84 L529.73,179.11 L530.41,179.37 L531.09,179.63 L531.77,179.88 L532.44,180.12 L533.12,180.36 L533.8,180.59 L534.48,180.81 L535.16,181.03 L535.84,181.25 L536.52,181.46 L537.2,181.66 L537.88,181.86 L538.56,182.06 L539.24,182.25 L539.92,182.43 L540.6,182.61" stroke="#e57a45" stroke-width="1.7" fill="none" stroke-linejoin="round" stroke-linecap="round" />
<line x1="360.2" y1="139.4" x2="383" y2="139.4" stroke="#5a3cc0" stroke-width="1.6"/>
<text x="385.5" y="143.3" font-family='"Liberation Sans", sans-serif' font-size="10.5" font-weight="normal" text-anchor="start" fill="#222" stroke="#222" stroke-width="0.22" >60 meV</text>
<line x1="360.2" y1="151.7" x2="383" y2="151.7" stroke="#4cc6e8" stroke-width="1.6"/>
<text x="385.5" y="155.6" font-family='"Liberation Sans", sans-serif' font-size="10.5" font-weight="normal" text-anchor="start" fill="#222" stroke="#222" stroke-width="0.22" >50 meV</text>
<line x1="360.2" y1="164" x2="383" y2="164" stroke="#7fda55" stroke-width="1.6"/>
<text x="385.5" y="167.9" font-family='"Liberation Sans", sans-serif' font-size="10.5" font-weight="normal" text-anchor="start" fill="#222" stroke="#222" stroke-width="0.22" >40 meV</text>
<line x1="360.2" y1="176.3" x2="383" y2="176.3" stroke="#ef7a3a" stroke-width="1.6"/>
<text x="385.5" y="180.2" font-family='"Liberation Sans", sans-serif' font-size="10.5" font-weight="normal" text-anchor="start" fill="#222" stroke="#222" stroke-width="0.22" >30 meV</text>
<rect x="77.4" y="266.3" width="203.49999999999997" height="142.8" fill="none" stroke="#555" stroke-width="1.2"/>
<line x1="75.8" y1="409.7" x2="77.4" y2="409.7" stroke="#666" stroke-width="0.9"/>
<line x1="74.6" y1="392.9" x2="77.4" y2="392.9" stroke="#666" stroke-width="0.9"/>
<text x="72.5" y="394.8" font-family='"Liberation Serif", serif' font-size="11.5" font-weight="bold" text-anchor="end" fill="#000" textLength="13.6" lengthAdjust="spacingAndGlyphs" stroke="#000" stroke-width="0.22" >1.2</text>
<line x1="75.8" y1="376.1" x2="77.4" y2="376.1" stroke="#666" stroke-width="0.9"/>
<line x1="74.6" y1="359.3" x2="77.4" y2="359.3" stroke="#666" stroke-width="0.9"/>
<text x="72.5" y="361.2" font-family='"Liberation Serif", serif' font-size="11.5" font-weight="bold" text-anchor="end" fill="#000" textLength="13.6" lengthAdjust="spacingAndGlyphs" stroke="#000" stroke-width="0.22" >1.4</text>
<line x1="75.8" y1="342.5" x2="77.4" y2="342.5" stroke="#666" stroke-width="0.9"/>
<line x1="74.6" y1="325.7" x2="77.4" y2="325.7" stroke="#666" stroke-width="0.9"/>
<text x="72.5" y="327.6" font-family='"Liberation Serif", serif' font-size="11.5" font-weight="bold" text-anchor="end" fill="#000" textLength="13.6" lengthAdjust="spacingAndGlyphs" stroke="#000" stroke-width="0.22" >1.6</text>
<line x1="75.8" y1="308.9" x2="77.4" y2="308.9" stroke="#666" stroke-width="0.9"/>
<line x1="74.6" y1="292.1" x2="77.4" y2="292.1" stroke="#666" stroke-width="0.9"/>
<text x="72.5" y="294" font-family='"Liberation Serif", serif' font-size="11.5" font-weight="bold" text-anchor="end" fill="#000" textLength="13.6" lengthAdjust="spacingAndGlyphs" stroke="#000" stroke-width="0.22" >1.8</text>
<line x1="75.8" y1="275.3" x2="77.4" y2="275.3" stroke="#666" stroke-width="0.9"/>
<line x1="77.4" y1="409.1" x2="77.4" y2="411.6" stroke="#666" stroke-width="0.9"/>
<line x1="116.5" y1="409.1" x2="116.5" y2="410.7" stroke="#666" stroke-width="0.9"/>
<line x1="155.6" y1="409.1" x2="155.6" y2="411.6" stroke="#666" stroke-width="0.9"/>
<line x1="194.7" y1="409.1" x2="194.7" y2="410.7" stroke="#666" stroke-width="0.9"/>
<line x1="233.8" y1="409.1" x2="233.8" y2="411.6" stroke="#666" stroke-width="0.9"/>
<line x1="272.9" y1="409.1" x2="272.9" y2="410.7" stroke="#666" stroke-width="0.9"/>
<text x="77.6" y="423.6" font-family='"Liberation Serif", serif' font-size="11.7" font-weight="bold" text-anchor="middle" fill="#000" textLength="32" lengthAdjust="spacingAndGlyphs" stroke="#000" stroke-width="0.22" >0.0025</text>
<text x="155.8" y="423.6" font-family='"Liberation Serif", serif' font-size="11.7" font-weight="bold" text-anchor="middle" fill="#000" textLength="32" lengthAdjust="spacingAndGlyphs" stroke="#000" stroke-width="0.22" >0.0030</text>
<text x="234" y="423.6" font-family='"Liberation Serif", serif' font-size="11.7" font-weight="bold" text-anchor="middle" fill="#000" textLength="32" lengthAdjust="spacingAndGlyphs" stroke="#000" stroke-width="0.22" >0.0035</text>
<text x="161" y="439.2" font-family='"Liberation Serif", serif' font-size="14" font-weight="bold" text-anchor="middle" fill="#000" textLength="51.5" lengthAdjust="spacingAndGlyphs" stroke="#000" stroke-width="0.22" >1/T (K<tspan font-size="9" dy="-5">-1</tspan><tspan dy="5">)</tspan></text>
<text x="50.2" y="344.4" font-family='"Liberation Serif", serif' font-size="14" font-weight="bold" text-anchor="middle" fill="#000" textLength="146" lengthAdjust="spacingAndGlyphs" stroke="#000" stroke-width="0.22" transform="rotate(-90 50.2 344.4)">Integrated Intensity (10<tspan font-size="9" dy="-5">5</tspan><tspan dy="5">)</tspan></text>
<text x="94.3" y="288.9" font-family='"Liberation Serif", serif' font-size="13.5" font-weight="bold" text-anchor="start" fill="#000" textLength="53" lengthAdjust="spacingAndGlyphs" stroke="#000" stroke-width="0.22" >R<tspan font-size="8.5" dy="-4.4">2</tspan><tspan dy="4.4">= 0.99</tspan></text>
<text x="94.3" y="307.7" font-family='"Liberation Serif", serif' font-size="13.5" font-weight="bold" text-anchor="start" fill="#000" textLength="80" lengthAdjust="spacingAndGlyphs" stroke="#000" stroke-width="0.22" >E<tspan font-size="8.5" dy="3.4">b</tspan><tspan dy="-3.4"> = 375 meV</tspan></text>
<path d="M84.4,396.49 L87.37,393.58 L90.34,390.71 L93.3,387.86 L96.27,385.05 L99.24,382.28 L102.21,379.53 L105.17,376.82 L108.14,374.14 L111.11,371.49 L114.08,368.88 L117.05,366.3 L120.01,363.75 L122.98,361.24 L125.95,358.76 L128.92,356.31 L131.88,353.89 L134.85,351.51 L137.82,349.16 L140.79,346.84 L143.76,344.55 L146.72,342.3 L149.69,340.08 L152.66,337.9 L155.63,335.74 L158.59,333.62 L161.56,331.54 L164.53,329.48 L167.5,327.46 L170.47,325.47 L173.43,323.51 L176.4,321.59 L179.37,319.7 L182.34,317.84 L185.31,316.02 L188.27,314.22 L191.24,312.47 L194.21,310.74 L197.18,309.05 L200.14,307.38 L203.11,305.76 L206.08,304.16 L209.05,302.6 L212.02,301.07 L214.98,299.57 L217.95,298.11 L220.92,296.68 L223.89,295.28 L226.85,293.92 L229.82,292.58 L232.79,291.29 L235.76,290.02 L238.73,288.79 L241.69,287.58 L244.66,286.42 L247.63,285.28 L250.6,284.18 L253.56,283.11 L256.53,282.07 L259.5,281.07" stroke="#c83a42" stroke-width="1.3" fill="none" stroke-linejoin="round" stroke-linecap="round" />
<circle cx="84.4" cy="395.6" r="1.7" fill="#111"/>
<circle cx="95.2" cy="387.8" r="1.7" fill="#111"/>
<circle cx="106" cy="377" r="1.7" fill="#111"/>
<circle cx="117.4" cy="363.9" r="1.7" fill="#111"/>
<circle cx="129.5" cy="354.2" r="1.7" fill="#111"/>
<circle cx="142.3" cy="346.8" r="1.7" fill="#111"/>
<circle cx="155.7" cy="336.7" r="1.7" fill="#111"/>
<circle cx="170.6" cy="326.1" r="1.7" fill="#111"/>
<circle cx="185.9" cy="314.9" r="1.7" fill="#111"/>
<circle cx="202.7" cy="306.4" r="1.7" fill="#111"/>
<circle cx="220.2" cy="296.3" r="1.7" fill="#111"/>
<circle cx="239" cy="287.6" r="1.7" fill="#111"/>
<circle cx="259.5" cy="281.8" r="1.7" fill="#111"/>
<path d="M93.5,395.2 L106.6,395.2 L106.3,393.6 L110.6,397 L106.3,400.3 L106.6,398.8 L93.5,398.8 Z" fill="#000"/>
<text x="114.5" y="400.6" font-family='"Liberation Serif", serif' font-size="12.5" font-weight="bold" text-anchor="start" fill="#000" stroke="#000" stroke-width="0.22" >393 K</text>
<path d="M219.1,301.7 L223,301.7 L223,315.4 L224.8,315.4 L221.2,319.2 L217.8,315.4 L219.1,315.4 Z" fill="#000"/>
<text x="207.6" y="332.8" font-family='"Liberation Serif", serif' font-size="12.5" font-weight="bold" text-anchor="start" fill="#000" stroke="#000" stroke-width="0.22" >293 K</text>
<rect x="340.3" y="266.6" width="202.7" height="143.59999999999997" fill="none" stroke="#555" stroke-width="1.2"/>
<line x1="337.5" y1="401.3" x2="340.3" y2="401.3" stroke="#666" stroke-width="0.9"/>
<line x1="338.7" y1="378.9" x2="340.3" y2="378.9" stroke="#666" stroke-width="0.9"/>
<line x1="337.5" y1="356.5" x2="340.3" y2="356.5" stroke="#666" stroke-width="0.9"/>
<line x1="338.7" y1="334.1" x2="340.3" y2="334.1" stroke="#666" stroke-width="0.9"/>
<line x1="337.5" y1="311.7" x2="340.3" y2="311.7" stroke="#666" stroke-width="0.9"/>
<line x1="338.7" y1="289.3" x2="340.3" y2="289.3" stroke="#666" stroke-width="0.9"/>
<line x1="337.5" y1="266.9" x2="340.3" y2="266.9" stroke="#666" stroke-width="0.9"/>
<text x="334.9" y="405.9" font-family='"Liberation Serif", serif' font-size="12.5" font-weight="bold" text-anchor="end" fill="#000" textLength="6.6" lengthAdjust="spacingAndGlyphs" stroke="#000" stroke-width="0.22" >0</text>
<text x="335.6" y="360.3" font-family='"Liberation Serif", serif' font-size="12" font-weight="bold" text-anchor="end" fill="#000" textLength="14" lengthAdjust="spacingAndGlyphs" stroke="#000" stroke-width="0.22" >1.0</text>
<text x="335.6" y="315.5" font-family='"Liberation Serif", serif' font-size="12" font-weight="bold" text-anchor="end" fill="#000" textLength="14" lengthAdjust="spacingAndGlyphs" stroke="#000" stroke-width="0.22" >2.0</text>
<text x="335.6" y="270.7" font-family='"Liberation Serif", serif' font-size="12" font-weight="bold" text-anchor="end" fill="#000" textLength="14" lengthAdjust="spacingAndGlyphs" stroke="#000" stroke-width="0.22" >3.0</text>
<line x1="360.5" y1="410.2" x2="360.5" y2="412.7" stroke="#666" stroke-width="0.9"/>
<line x1="381.3" y1="410.2" x2="381.3" y2="411.8" stroke="#666" stroke-width="0.9"/>
<line x1="402.1" y1="410.2" x2="402.1" y2="412.7" stroke="#666" stroke-width="0.9"/>
<line x1="422.9" y1="410.2" x2="422.9" y2="411.8" stroke="#666" stroke-width="0.9"/>
<line x1="443.7" y1="410.2" x2="443.7" y2="412.7" stroke="#666" stroke-width="0.9"/>
<line x1="464.5" y1="410.2" x2="464.5" y2="411.8" stroke="#666" stroke-width="0.9"/>
<line x1="485.3" y1="410.2" x2="485.3" y2="412.7" stroke="#666" stroke-width="0.9"/>
<line x1="506.1" y1="410.2" x2="506.1" y2="411.8" stroke="#666" stroke-width="0.9"/>
<line x1="526.9" y1="410.2" x2="526.9" y2="412.7" stroke="#666" stroke-width="0.9"/>
<text x="361" y="423.6" font-family='"Liberation Serif", serif' font-size="11.5" font-weight="bold" text-anchor="middle" fill="#000" textLength="26" lengthAdjust="spacingAndGlyphs" stroke="#000" stroke-width="0.22" >0.005</text>
<text x="402.6" y="423.6" font-family='"Liberation Serif", serif' font-size="11.5" font-weight="bold" text-anchor="middle" fill="#000" textLength="26" lengthAdjust="spacingAndGlyphs" stroke="#000" stroke-width="0.22" >0.010</text>
<text x="444.2" y="423.6" font-family='"Liberation Serif", serif' font-size="11.5" font-weight="bold" text-anchor="middle" fill="#000" textLength="26" lengthAdjust="spacingAndGlyphs" stroke="#000" stroke-width="0.22" >0.015</text>
<text x="485.8" y="423.6" font-family='"Liberation Serif", serif' font-size="11.5" font-weight="bold" text-anchor="middle" fill="#000" textLength="26" lengthAdjust="spacingAndGlyphs" stroke="#000" stroke-width="0.22" >0.020</text>
<text x="527.4" y="423.6" font-family='"Liberation Serif", serif' font-size="11.5" font-weight="bold" text-anchor="middle" fill="#000" textLength="26" lengthAdjust="spacingAndGlyphs" stroke="#000" stroke-width="0.22" >0.025</text>
<text x="448.4" y="437.3" font-family='"Liberation Serif", serif' font-size="14" font-weight="bold" text-anchor="middle" fill="#000" textLength="51" lengthAdjust="spacingAndGlyphs" stroke="#000" stroke-width="0.22" >1/T (K<tspan font-size="9" dy="-5">-1</tspan><tspan dy="5">)</tspan></text>
<text x="311.4" y="344" font-family='"Liberation Serif", serif' font-size="14" font-weight="bold" text-anchor="middle" fill="#000" textLength="145.5" lengthAdjust="spacingAndGlyphs" stroke="#000" stroke-width="0.22" transform="rotate(-90 311.4 344)">Integrated Intensity (10<tspan font-size="9" dy="-5">7</tspan><tspan dy="5">)</tspan></text>
<text x="358" y="290.5" font-family='"Liberation Serif", serif' font-size="13.5" font-weight="bold" text-anchor="start" fill="#000" textLength="53.6" lengthAdjust="spacingAndGlyphs" stroke="#000" stroke-width="0.22" >R<tspan font-size="8.5" dy="-4.4">2</tspan><tspan dy="4.4">= 0.99</tspan></text>
<text x="358" y="309.3" font-family='"Liberation Serif", serif' font-size="13.5" font-weight="bold" text-anchor="start" fill="#000" textLength="73.5" lengthAdjust="spacingAndGlyphs" stroke="#000" stroke-width="0.22" >E<tspan font-size="8.5" dy="3.4">b</tspan><tspan dy="-3.4"> = 65 meV</tspan></text>
<path d="M346,400.4 C347.5,400.32 351.83,400.17 355,399.9 C358.17,399.63 361.67,399.25 365,398.8 C368.33,398.35 371.67,397.83 375,397.2 C378.33,396.57 381.67,395.9 385,395 C388.33,394.1 391.67,393.05 395,391.8 C398.33,390.55 401.67,389.13 405,387.5 C408.33,385.87 411.67,384.08 415,382 C418.33,379.92 422.17,377.23 425,375 C427.83,372.77 429.67,370.78 432,368.6 C434.33,366.42 435.6,365.25 439,361.9 C442.4,358.55 448.3,352.95 452.4,348.5 C456.5,344.05 459.87,339.65 463.6,335.2 C467.33,330.75 471.07,326.27 474.8,321.8 C478.53,317.33 482.25,312.67 486,308.4 C489.75,304.13 493.55,299.73 497.3,296.2 C501.05,292.67 504.77,289.67 508.5,287.2 C512.23,284.73 516.53,282.9 519.7,281.4 C522.87,279.9 526.2,278.73 527.5,278.2" stroke="#c23a44" stroke-width="1.3" fill="none" stroke-linejoin="round" stroke-linecap="round" />
<circle cx="346.5" cy="401" r="1.7" fill="#111"/>
<circle cx="348" cy="401" r="1.7" fill="#111"/>
<circle cx="349.5" cy="400.9" r="1.7" fill="#111"/>
<circle cx="351" cy="400.8" r="1.7" fill="#111"/>
<circle cx="352.5" cy="400.7" r="1.7" fill="#111"/>
<circle cx="354" cy="400.6" r="1.7" fill="#111"/>
<circle cx="355.5" cy="400.5" r="1.7" fill="#111"/>
<circle cx="357" cy="400.3" r="1.7" fill="#111"/>
<circle cx="359" cy="400.2" r="1.7" fill="#111"/>
<circle cx="360.8" cy="400" r="1.7" fill="#111"/>
<circle cx="365.7" cy="399" r="1.7" fill="#111"/>
<circle cx="371.7" cy="398" r="1.7" fill="#111"/>
<circle cx="379" cy="395.6" r="1.7" fill="#111"/>
<circle cx="388.5" cy="394.2" r="1.7" fill="#111"/>
<circle cx="402.8" cy="385.5" r="1.7" fill="#111"/>
<circle cx="411.9" cy="380.5" r="1.7" fill="#111"/>
<circle cx="423.2" cy="375.2" r="1.7" fill="#111"/>
<circle cx="438.3" cy="363.7" r="1.7" fill="#111"/>
<circle cx="458.3" cy="349.2" r="1.7" fill="#111"/>
<circle cx="486.4" cy="305.7" r="1.7" fill="#111"/>
<circle cx="527.6" cy="278.5" r="1.7" fill="#111"/>
<text x="24.2" y="19.4" font-family='"Liberation Serif", serif' font-size="22" font-weight="bold" text-anchor="start" fill="#000" stroke="#000" stroke-width="0.22" >(a)</text>
<text x="301.6" y="19.6" font-family='"Liberation Serif", serif' font-size="22" font-weight="bold" text-anchor="start" fill="#000" stroke="#000" stroke-width="0.22" >(b)</text>
<text x="24.2" y="256.8" font-family='"Liberation Serif", serif' font-size="22" font-weight="bold" text-anchor="start" fill="#000" stroke="#000" stroke-width="0.22" >(c)</text>
<text x="302" y="256.8" font-family='"Liberation Serif", serif' font-size="22" font-weight="bold" text-anchor="start" fill="#000" stroke="#000" stroke-width="0.22" >(d)</text>
</svg>
</body></html>
